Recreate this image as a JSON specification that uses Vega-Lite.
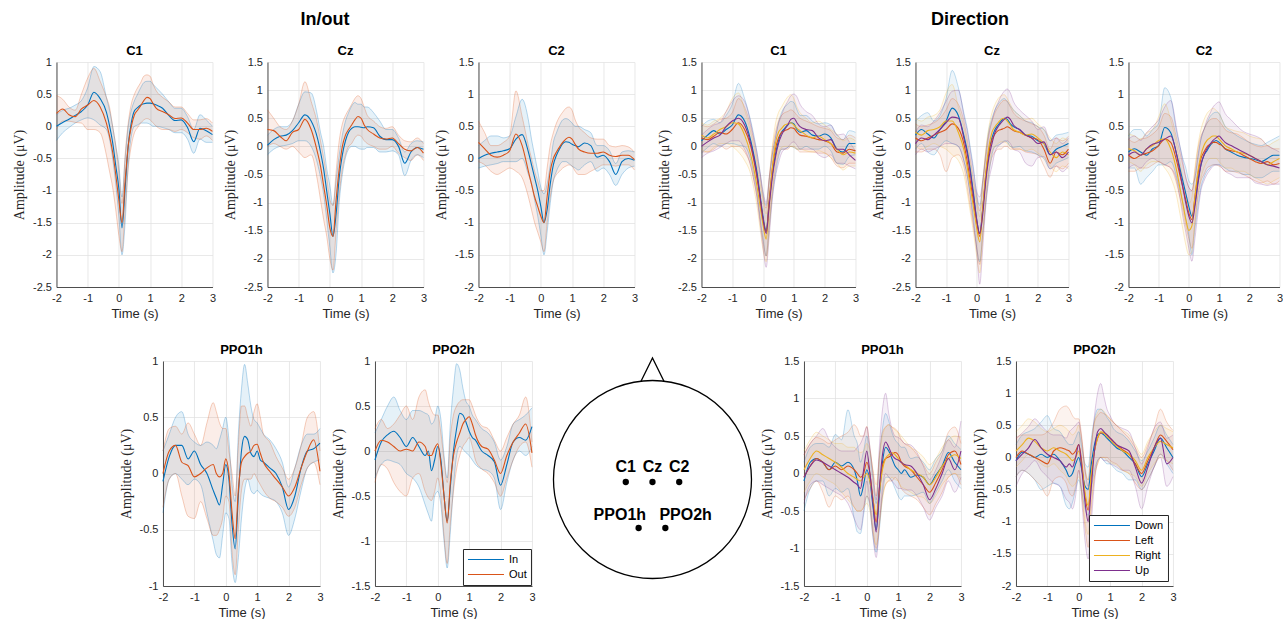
{
"$schema":"https://vega.github.io/schema/vega-lite/v6.json",
"background":"white",
"padding":{"left":12,"top":11,"right":0,"bottom":0},
"config":{
 "view":{"stroke":null},
 "font":"Liberation Sans",
 "title":{"font":"Liberation Sans","fontSize":13,"fontWeight":"bold","color":"#000000","offset":-2},
 "axis":{"labelFont":"Liberation Sans","labelFontSize":11,"labelColor":"#262626","labelOverlap":false,"domainColor":"#262626","domainWidth":0.8,"gridColor":"#dfdfdf","gridWidth":0.7,"ticks":false,"titleColor":"#262626","titleFontWeight":"normal"},
 "axisX":{"labelPadding":5,"labelFlush":false,"titleFont":"Liberation Sans","titleFontSize":13,"titlePadding":4},
 "axisY":{"labelPadding":5,"titleFont":"Liberation Serif","titleFontSize":14,"titlePadding":6}
},
"datasets":{
"a1":[
{"s":"In","t":-2,"m":0,"l":-0.22,"h":0.18},{"s":"In","t":-1.8,"m":0.06,"l":-0.1,"h":0.25},{"s":"In","t":-1.6,"m":0.11,"l":-0.02,"h":0.28},{"s":"In","t":-1.4,"m":0.17,"l":0.05,"h":0.33},{"s":"In","t":-1.2,"m":0.23,"l":0.1,"h":0.4},{"s":"In","t":-1,"m":0.33,"l":0.13,"h":0.6},{"s":"In","t":-0.8,"m":0.53,"l":0.1,"h":0.93},{"s":"In","t":-0.6,"m":0.43,"l":0.02,"h":0.85},{"s":"In","t":-0.4,"m":0.22,"l":-0.05,"h":0.45},{"s":"In","t":-0.3,"m":0.01,"l":-0.2,"h":0.25},{"s":"In","t":-0.2,"m":-0.25,"l":-0.5,"h":0},{"s":"In","t":-0.1,"m":-0.61,"l":-0.9,"h":-0.3},{"s":"In","t":0,"m":-0.97,"l":-1.4,"h":-0.6},{"s":"In","t":0.1,"m":-1.58,"l":-2,"h":-1.1},{"s":"In","t":0.2,"m":-0.97,"l":-1.5,"h":-0.5},{"s":"In","t":0.3,"m":-0.3,"l":-0.6,"h":0},{"s":"In","t":0.4,"m":0.06,"l":-0.15,"h":0.25},{"s":"In","t":0.5,"m":0.24,"l":0,"h":0.4},{"s":"In","t":0.6,"m":0.29,"l":0.02,"h":0.5},{"s":"In","t":0.7,"m":0.33,"l":0.05,"h":0.6},{"s":"In","t":0.8,"m":0.35,"l":0.05,"h":0.68},{"s":"In","t":0.9,"m":0.36,"l":0.05,"h":0.7},{"s":"In","t":1,"m":0.36,"l":0.03,"h":0.7},{"s":"In","t":1.1,"m":0.35,"l":0,"h":0.65},{"s":"In","t":1.2,"m":0.33,"l":0,"h":0.6},{"s":"In","t":1.4,"m":0.28,"l":-0.02,"h":0.5},{"s":"In","t":1.6,"m":0.17,"l":-0.05,"h":0.38},{"s":"In","t":1.8,"m":0.09,"l":-0.1,"h":0.28},{"s":"In","t":2,"m":0.1,"l":-0.1,"h":0.28},{"s":"In","t":2.2,"m":-0.02,"l":-0.2,"h":0.15},{"s":"In","t":2.4,"m":-0.24,"l":-0.42,"h":-0.05},{"s":"In","t":2.6,"m":-0.03,"l":-0.2,"h":0.18},{"s":"In","t":2.8,"m":-0.07,"l":-0.25,"h":0.1},{"s":"In","t":3,"m":-0.13,"l":-0.25,"h":0},
{"s":"Out","t":-2,"m":0.2,"l":-0.05,"h":0.48},{"s":"Out","t":-1.8,"m":0.27,"l":0.08,"h":0.42},{"s":"Out","t":-1.6,"m":0.18,"l":0.08,"h":0.3},{"s":"Out","t":-1.4,"m":0.15,"l":0.06,"h":0.25},{"s":"Out","t":-1.2,"m":0.27,"l":0.05,"h":0.5},{"s":"Out","t":-1,"m":0.33,"l":-0.05,"h":0.75},{"s":"Out","t":-0.8,"m":0.4,"l":-0.05,"h":0.9},{"s":"Out","t":-0.6,"m":0.3,"l":-0.1,"h":0.7},{"s":"Out","t":-0.4,"m":0.05,"l":-0.45,"h":0.45},{"s":"Out","t":-0.3,"m":-0.15,"l":-0.7,"h":0.3},{"s":"Out","t":-0.2,"m":-0.4,"l":-0.95,"h":0},{"s":"Out","t":-0.1,"m":-0.75,"l":-1.3,"h":-0.3},{"s":"Out","t":0,"m":-1.15,"l":-1.7,"h":-0.7},{"s":"Out","t":0.1,"m":-1.5,"l":-1.95,"h":-1.2},{"s":"Out","t":0.2,"m":-0.85,"l":-1.3,"h":-0.45},{"s":"Out","t":0.3,"m":-0.3,"l":-0.65,"h":0.05},{"s":"Out","t":0.4,"m":0,"l":-0.3,"h":0.35},{"s":"Out","t":0.5,"m":0.18,"l":-0.1,"h":0.5},{"s":"Out","t":0.6,"m":0.25,"l":-0.02,"h":0.6},{"s":"Out","t":0.7,"m":0.32,"l":0.05,"h":0.68},{"s":"Out","t":0.8,"m":0.4,"l":0.1,"h":0.78},{"s":"Out","t":0.9,"m":0.45,"l":0.12,"h":0.8},{"s":"Out","t":1,"m":0.43,"l":0.1,"h":0.78},{"s":"Out","t":1.1,"m":0.35,"l":0.05,"h":0.65},{"s":"Out","t":1.2,"m":0.28,"l":0,"h":0.55},{"s":"Out","t":1.4,"m":0.23,"l":-0.05,"h":0.45},{"s":"Out","t":1.6,"m":0.18,"l":-0.05,"h":0.38},{"s":"Out","t":1.8,"m":0.12,"l":-0.08,"h":0.3},{"s":"Out","t":2,"m":0.13,"l":-0.05,"h":0.3},{"s":"Out","t":2.2,"m":0.05,"l":-0.1,"h":0.2},{"s":"Out","t":2.4,"m":-0.05,"l":-0.18,"h":0.1},{"s":"Out","t":2.6,"m":-0.05,"l":-0.2,"h":0.1},{"s":"Out","t":2.8,"m":-0.03,"l":-0.15,"h":0.12},{"s":"Out","t":3,"m":-0.08,"l":-0.22,"h":0.05}],
"a2":[
{"s":"In","t":-2,"m":0.02,"l":-0.15,"h":0.2},{"s":"In","t":-1.8,"m":0.12,"l":-0.05,"h":0.3},{"s":"In","t":-1.6,"m":0.18,"l":0,"h":0.35},{"s":"In","t":-1.4,"m":0.2,"l":0.02,"h":0.35},{"s":"In","t":-1.2,"m":0.28,"l":0.05,"h":0.45},{"s":"In","t":-1,"m":0.42,"l":0.1,"h":0.75},{"s":"In","t":-0.8,"m":0.56,"l":0.1,"h":0.97},{"s":"In","t":-0.6,"m":0.45,"l":0,"h":0.95},{"s":"In","t":-0.4,"m":0.15,"l":-0.3,"h":0.55},{"s":"In","t":-0.3,"m":-0.1,"l":-0.55,"h":0.25},{"s":"In","t":-0.2,"m":-0.4,"l":-0.85,"h":0},{"s":"In","t":-0.1,"m":-0.8,"l":-1.3,"h":-0.4},{"s":"In","t":0,"m":-1.2,"l":-1.8,"h":-0.7},{"s":"In","t":0.1,"m":-1.6,"l":-2.25,"h":-1.05},{"s":"In","t":0.2,"m":-1.2,"l":-1.9,"h":-0.6},{"s":"In","t":0.3,"m":-0.55,"l":-1,"h":-0.15},{"s":"In","t":0.4,"m":-0.15,"l":-0.5,"h":0.2},{"s":"In","t":0.5,"m":0.1,"l":-0.2,"h":0.45},{"s":"In","t":0.6,"m":0.25,"l":-0.05,"h":0.6},{"s":"In","t":0.7,"m":0.32,"l":0,"h":0.72},{"s":"In","t":0.8,"m":0.35,"l":0,"h":0.78},{"s":"In","t":0.9,"m":0.35,"l":-0.03,"h":0.75},{"s":"In","t":1,"m":0.34,"l":-0.05,"h":0.75},{"s":"In","t":1.1,"m":0.33,"l":-0.05,"h":0.7},{"s":"In","t":1.2,"m":0.35,"l":-0.02,"h":0.7},{"s":"In","t":1.4,"m":0.33,"l":-0.02,"h":0.6},{"s":"In","t":1.6,"m":0.18,"l":-0.1,"h":0.45},{"s":"In","t":1.8,"m":0.12,"l":-0.1,"h":0.3},{"s":"In","t":2,"m":0.12,"l":-0.08,"h":0.3},{"s":"In","t":2.2,"m":0,"l":-0.15,"h":0.15},{"s":"In","t":2.4,"m":-0.3,"l":-0.52,"h":-0.1},{"s":"In","t":2.6,"m":-0.1,"l":-0.25,"h":0.05},{"s":"In","t":2.8,"m":-0.02,"l":-0.15,"h":0.1},{"s":"In","t":3,"m":-0.05,"l":-0.2,"h":0.08},
{"s":"Out","t":-2,"m":0.3,"l":0,"h":0.65},{"s":"Out","t":-1.8,"m":0.28,"l":0.05,"h":0.5},{"s":"Out","t":-1.6,"m":0.18,"l":0,"h":0.35},{"s":"Out","t":-1.4,"m":0.1,"l":-0.05,"h":0.3},{"s":"Out","t":-1.2,"m":0.25,"l":0,"h":0.45},{"s":"Out","t":-1,"m":0.3,"l":-0.1,"h":0.75},{"s":"Out","t":-0.8,"m":0.48,"l":-0.2,"h":1.15},{"s":"Out","t":-0.6,"m":0.3,"l":-0.15,"h":0.8},{"s":"Out","t":-0.4,"m":-0.1,"l":-0.6,"h":0.4},{"s":"Out","t":-0.3,"m":-0.35,"l":-0.95,"h":0.1},{"s":"Out","t":-0.2,"m":-0.7,"l":-1.3,"h":-0.2},{"s":"Out","t":-0.1,"m":-1.05,"l":-1.6,"h":-0.55},{"s":"Out","t":0,"m":-1.45,"l":-2,"h":-0.95},{"s":"Out","t":0.1,"m":-1.6,"l":-2.2,"h":-1.05},{"s":"Out","t":0.2,"m":-0.95,"l":-1.5,"h":-0.45},{"s":"Out","t":0.3,"m":-0.4,"l":-0.85,"h":0.1},{"s":"Out","t":0.4,"m":0,"l":-0.4,"h":0.4},{"s":"Out","t":0.5,"m":0.2,"l":-0.15,"h":0.55},{"s":"Out","t":0.6,"m":0.3,"l":0,"h":0.65},{"s":"Out","t":0.7,"m":0.38,"l":0.05,"h":0.75},{"s":"Out","t":0.8,"m":0.47,"l":0.15,"h":0.85},{"s":"Out","t":0.9,"m":0.53,"l":0.2,"h":0.9},{"s":"Out","t":1,"m":0.5,"l":0.18,"h":0.85},{"s":"Out","t":1.1,"m":0.38,"l":0.1,"h":0.7},{"s":"Out","t":1.2,"m":0.3,"l":0.05,"h":0.55},{"s":"Out","t":1.4,"m":0.22,"l":0,"h":0.45},{"s":"Out","t":1.6,"m":0.15,"l":-0.05,"h":0.35},{"s":"Out","t":1.8,"m":0.13,"l":-0.05,"h":0.32},{"s":"Out","t":2,"m":0.15,"l":0,"h":0.35},{"s":"Out","t":2.2,"m":0.05,"l":-0.12,"h":0.2},{"s":"Out","t":2.4,"m":-0.05,"l":-0.2,"h":0.1},{"s":"Out","t":2.6,"m":-0.08,"l":-0.25,"h":0.08},{"s":"Out","t":2.8,"m":-0.02,"l":-0.15,"h":0.15},{"s":"Out","t":3,"m":-0.12,"l":-0.25,"h":0.05}],
"a3":[
{"s":"In","t":-2,"m":0,"l":-0.15,"h":0.2},{"s":"In","t":-1.8,"m":0.05,"l":-0.12,"h":0.28},{"s":"In","t":-1.6,"m":0.08,"l":-0.1,"h":0.35},{"s":"In","t":-1.4,"m":0.1,"l":-0.08,"h":0.35},{"s":"In","t":-1.2,"m":0.12,"l":-0.05,"h":0.32},{"s":"In","t":-1,"m":0.15,"l":-0.05,"h":0.35},{"s":"In","t":-0.8,"m":0.3,"l":-0.05,"h":0.65},{"s":"In","t":-0.6,"m":0.37,"l":0,"h":0.92},{"s":"In","t":-0.4,"m":0.1,"l":-0.25,"h":0.6},{"s":"In","t":-0.3,"m":-0.1,"l":-0.4,"h":0.3},{"s":"In","t":-0.2,"m":-0.3,"l":-0.65,"h":0.05},{"s":"In","t":-0.1,"m":-0.5,"l":-0.9,"h":-0.2},{"s":"In","t":0,"m":-0.75,"l":-1.2,"h":-0.45},{"s":"In","t":0.1,"m":-1,"l":-1.5,"h":-0.55},{"s":"In","t":0.2,"m":-0.8,"l":-1.15,"h":-0.4},{"s":"In","t":0.3,"m":-0.4,"l":-0.7,"h":-0.1},{"s":"In","t":0.4,"m":-0.1,"l":-0.35,"h":0.25},{"s":"In","t":0.5,"m":0.05,"l":-0.2,"h":0.4},{"s":"In","t":0.6,"m":0.15,"l":-0.1,"h":0.52},{"s":"In","t":0.7,"m":0.23,"l":-0.05,"h":0.6},{"s":"In","t":0.8,"m":0.26,"l":-0.05,"h":0.62},{"s":"In","t":0.9,"m":0.25,"l":-0.08,"h":0.6},{"s":"In","t":1,"m":0.22,"l":-0.12,"h":0.55},{"s":"In","t":1.1,"m":0.2,"l":-0.15,"h":0.5},{"s":"In","t":1.2,"m":0.18,"l":-0.18,"h":0.5},{"s":"In","t":1.4,"m":0.24,"l":-0.1,"h":0.45},{"s":"In","t":1.6,"m":0.2,"l":-0.05,"h":0.4},{"s":"In","t":1.8,"m":0.02,"l":-0.2,"h":0.2},{"s":"In","t":2,"m":0.05,"l":-0.15,"h":0.2},{"s":"In","t":2.2,"m":-0.05,"l":-0.25,"h":0.12},{"s":"In","t":2.4,"m":-0.25,"l":-0.42,"h":-0.08},{"s":"In","t":2.6,"m":-0.05,"l":-0.25,"h":0.1},{"s":"In","t":2.8,"m":0,"l":-0.15,"h":0.12},{"s":"In","t":3,"m":-0.03,"l":-0.12,"h":0.1},
{"s":"Out","t":-2,"m":0.25,"l":-0.05,"h":0.58},{"s":"Out","t":-1.8,"m":0.15,"l":-0.1,"h":0.4},{"s":"Out","t":-1.6,"m":0.05,"l":-0.2,"h":0.2},{"s":"Out","t":-1.4,"m":0.02,"l":-0.25,"h":0.2},{"s":"Out","t":-1.2,"m":0.05,"l":-0.2,"h":0.25},{"s":"Out","t":-1,"m":0.12,"l":-0.15,"h":0.35},{"s":"Out","t":-0.8,"m":0.38,"l":-0.2,"h":1.05},{"s":"Out","t":-0.6,"m":0.2,"l":-0.3,"h":0.65},{"s":"Out","t":-0.4,"m":-0.2,"l":-0.6,"h":0.2},{"s":"Out","t":-0.3,"m":-0.4,"l":-0.8,"h":0},{"s":"Out","t":-0.2,"m":-0.6,"l":-1,"h":-0.2},{"s":"Out","t":-0.1,"m":-0.75,"l":-1.15,"h":-0.35},{"s":"Out","t":0,"m":-0.9,"l":-1.3,"h":-0.5},{"s":"Out","t":0.1,"m":-1,"l":-1.45,"h":-0.5},{"s":"Out","t":0.2,"m":-0.6,"l":-1,"h":-0.15},{"s":"Out","t":0.3,"m":-0.2,"l":-0.6,"h":0.2},{"s":"Out","t":0.4,"m":0,"l":-0.35,"h":0.4},{"s":"Out","t":0.5,"m":0.1,"l":-0.25,"h":0.55},{"s":"Out","t":0.6,"m":0.18,"l":-0.2,"h":0.65},{"s":"Out","t":0.7,"m":0.25,"l":-0.15,"h":0.72},{"s":"Out","t":0.8,"m":0.3,"l":-0.12,"h":0.78},{"s":"Out","t":0.9,"m":0.33,"l":-0.1,"h":0.8},{"s":"Out","t":1,"m":0.3,"l":-0.12,"h":0.75},{"s":"Out","t":1.1,"m":0.22,"l":-0.2,"h":0.6},{"s":"Out","t":1.2,"m":0.15,"l":-0.25,"h":0.5},{"s":"Out","t":1.4,"m":0.1,"l":-0.25,"h":0.4},{"s":"Out","t":1.6,"m":0.08,"l":-0.2,"h":0.32},{"s":"Out","t":1.8,"m":0.08,"l":-0.15,"h":0.3},{"s":"Out","t":2,"m":0.1,"l":-0.1,"h":0.3},{"s":"Out","t":2.2,"m":0.05,"l":-0.1,"h":0.2},{"s":"Out","t":2.4,"m":0.03,"l":-0.12,"h":0.18},{"s":"Out","t":2.6,"m":0.05,"l":-0.1,"h":0.2},{"s":"Out","t":2.8,"m":0.05,"l":-0.1,"h":0.18},{"s":"Out","t":3,"m":-0.02,"l":-0.18,"h":0.1}],
"a4":[
{"s":"In","t":-2,"m":-0.07,"l":-0.35,"h":0.2},{"s":"In","t":-1.8,"m":0.15,"l":-0.05,"h":0.35},{"s":"In","t":-1.6,"m":0.25,"l":0,"h":0.5},{"s":"In","t":-1.4,"m":0.25,"l":-0.05,"h":0.55},{"s":"In","t":-1.2,"m":0.13,"l":-0.1,"h":0.35},{"s":"In","t":-1,"m":0.2,"l":-0.05,"h":0.28},{"s":"In","t":-0.8,"m":0.08,"l":-0.1,"h":0.25},{"s":"In","t":-0.6,"m":0,"l":-0.35,"h":0.28},{"s":"In","t":-0.4,"m":-0.15,"l":-0.6,"h":0.25},{"s":"In","t":-0.3,"m":-0.22,"l":-0.72,"h":0.22},{"s":"In","t":-0.2,"m":-0.28,"l":-0.75,"h":0.3},{"s":"In","t":-0.1,"m":-0.1,"l":-0.55,"h":0.4},{"s":"In","t":0,"m":0.08,"l":-0.35,"h":0.5},{"s":"In","t":0.1,"m":-0.05,"l":-0.4,"h":0.3},{"s":"In","t":0.2,"m":-0.45,"l":-0.8,"h":-0.1},{"s":"In","t":0.3,"m":-0.67,"l":-0.97,"h":-0.25},{"s":"In","t":0.4,"m":-0.2,"l":-0.75,"h":0.35},{"s":"In","t":0.5,"m":0.2,"l":-0.4,"h":0.75},{"s":"In","t":0.6,"m":0.33,"l":-0.15,"h":0.97},{"s":"In","t":0.7,"m":0.3,"l":-0.05,"h":0.8},{"s":"In","t":0.8,"m":0.18,"l":-0.15,"h":0.6},{"s":"In","t":0.9,"m":0.15,"l":-0.18,"h":0.48},{"s":"In","t":1,"m":0.2,"l":-0.15,"h":0.45},{"s":"In","t":1.1,"m":0.12,"l":-0.18,"h":0.4},{"s":"In","t":1.2,"m":0.1,"l":-0.2,"h":0.35},{"s":"In","t":1.4,"m":0.05,"l":-0.22,"h":0.3},{"s":"In","t":1.6,"m":0,"l":-0.25,"h":0.22},{"s":"In","t":1.8,"m":-0.12,"l":-0.35,"h":0.1},{"s":"In","t":2,"m":-0.32,"l":-0.55,"h":-0.12},{"s":"In","t":2.2,"m":-0.2,"l":-0.4,"h":0.05},{"s":"In","t":2.4,"m":0.05,"l":-0.15,"h":0.25},{"s":"In","t":2.6,"m":0.2,"l":0.05,"h":0.35},{"s":"In","t":2.8,"m":0.22,"l":0.1,"h":0.35},{"s":"In","t":3,"m":0.27,"l":0.12,"h":0.4},
{"s":"Out","t":-2,"m":0,"l":-0.3,"h":0.2},{"s":"Out","t":-1.8,"m":0.2,"l":-0.05,"h":0.4},{"s":"Out","t":-1.6,"m":0.25,"l":0,"h":0.42},{"s":"Out","t":-1.4,"m":0.1,"l":-0.2,"h":0.35},{"s":"Out","t":-1.2,"m":0.07,"l":-0.38,"h":0.45},{"s":"Out","t":-1,"m":-0.03,"l":-0.4,"h":0.35},{"s":"Out","t":-0.8,"m":0,"l":-0.25,"h":0.25},{"s":"Out","t":-0.6,"m":0.05,"l":-0.4,"h":0.45},{"s":"Out","t":-0.4,"m":0.08,"l":-0.55,"h":0.63},{"s":"Out","t":-0.3,"m":0,"l":-0.55,"h":0.55},{"s":"Out","t":-0.2,"m":-0.03,"l":-0.5,"h":0.45},{"s":"Out","t":-0.1,"m":0,"l":-0.4,"h":0.4},{"s":"Out","t":0,"m":0.13,"l":-0.2,"h":0.4},{"s":"Out","t":0.1,"m":0,"l":-0.25,"h":0.2},{"s":"Out","t":0.2,"m":-0.35,"l":-0.7,"h":0},{"s":"Out","t":0.3,"m":-0.58,"l":-0.9,"h":-0.2},{"s":"Out","t":0.4,"m":-0.15,"l":-0.5,"h":0.25},{"s":"Out","t":0.5,"m":0.1,"l":-0.15,"h":0.6},{"s":"Out","t":0.6,"m":0.15,"l":-0.05,"h":0.6},{"s":"Out","t":0.7,"m":0.18,"l":-0.05,"h":0.5},{"s":"Out","t":0.8,"m":0.2,"l":-0.05,"h":0.42},{"s":"Out","t":0.9,"m":0.25,"l":0,"h":0.55},{"s":"Out","t":1,"m":0.26,"l":-0.05,"h":0.62},{"s":"Out","t":1.1,"m":0.18,"l":-0.1,"h":0.5},{"s":"Out","t":1.2,"m":0.1,"l":-0.15,"h":0.35},{"s":"Out","t":1.4,"m":0.02,"l":-0.22,"h":0.28},{"s":"Out","t":1.6,"m":-0.05,"l":-0.25,"h":0.15},{"s":"Out","t":1.8,"m":-0.12,"l":-0.3,"h":0.05},{"s":"Out","t":2,"m":-0.2,"l":-0.38,"h":-0.05},{"s":"Out","t":2.2,"m":-0.12,"l":-0.3,"h":0.05},{"s":"Out","t":2.4,"m":0.05,"l":-0.1,"h":0.25},{"s":"Out","t":2.6,"m":0.2,"l":0.05,"h":0.5},{"s":"Out","t":2.8,"m":0.3,"l":0.1,"h":0.55},{"s":"Out","t":3,"m":0.02,"l":-0.1,"h":0.2}],
"a5":[
{"s":"In","t":-2,"m":-0.1,"l":-0.3,"h":0.2},{"s":"In","t":-1.8,"m":0.1,"l":-0.15,"h":0.35},{"s":"In","t":-1.6,"m":0.18,"l":-0.1,"h":0.5},{"s":"In","t":-1.4,"m":0.22,"l":-0.12,"h":0.6},{"s":"In","t":-1.2,"m":0.15,"l":-0.15,"h":0.45},{"s":"In","t":-1,"m":0.05,"l":-0.25,"h":0.35},{"s":"In","t":-0.8,"m":0.15,"l":-0.3,"h":0.45},{"s":"In","t":-0.6,"m":0.05,"l":-0.4,"h":0.45},{"s":"In","t":-0.4,"m":-0.05,"l":-0.6,"h":0.42},{"s":"In","t":-0.3,"m":0,"l":-0.7,"h":0.4},{"s":"In","t":-0.2,"m":-0.22,"l":-0.78,"h":0.3},{"s":"In","t":-0.1,"m":-0.1,"l":-0.5,"h":0.35},{"s":"In","t":0,"m":0.05,"l":-0.45,"h":0.5},{"s":"In","t":0.1,"m":-0.1,"l":-0.6,"h":0.35},{"s":"In","t":0.2,"m":-0.5,"l":-1,"h":-0.05},{"s":"In","t":0.3,"m":-0.78,"l":-1.3,"h":-0.3},{"s":"In","t":0.4,"m":-0.4,"l":-0.9,"h":0.3},{"s":"In","t":0.5,"m":0,"l":-0.4,"h":0.7},{"s":"In","t":0.6,"m":0.25,"l":-0.05,"h":0.97},{"s":"In","t":0.7,"m":0.42,"l":0.05,"h":0.9},{"s":"In","t":0.8,"m":0.4,"l":0.02,"h":0.7},{"s":"In","t":0.9,"m":0.32,"l":-0.02,"h":0.55},{"s":"In","t":1,"m":0.22,"l":-0.05,"h":0.5},{"s":"In","t":1.1,"m":0.15,"l":-0.1,"h":0.4},{"s":"In","t":1.2,"m":0.12,"l":-0.15,"h":0.35},{"s":"In","t":1.4,"m":0,"l":-0.2,"h":0.25},{"s":"In","t":1.6,"m":-0.05,"l":-0.22,"h":0.2},{"s":"In","t":1.8,"m":-0.12,"l":-0.3,"h":0.1},{"s":"In","t":2,"m":-0.38,"l":-0.65,"h":-0.1},{"s":"In","t":2.2,"m":-0.15,"l":-0.35,"h":0.05},{"s":"In","t":2.4,"m":0.1,"l":-0.1,"h":0.3},{"s":"In","t":2.6,"m":0.15,"l":0,"h":0.35},{"s":"In","t":2.8,"m":0.12,"l":-0.05,"h":0.4},{"s":"In","t":3,"m":0.27,"l":0.05,"h":0.48},
{"s":"Out","t":-2,"m":0,"l":-0.35,"h":0.25},{"s":"Out","t":-1.8,"m":0.12,"l":-0.15,"h":0.35},{"s":"Out","t":-1.6,"m":0.1,"l":-0.2,"h":0.25},{"s":"Out","t":-1.4,"m":0.05,"l":-0.35,"h":0.3},{"s":"Out","t":-1.2,"m":0,"l":-0.45,"h":0.4},{"s":"Out","t":-1,"m":0.02,"l":-0.5,"h":0.5},{"s":"Out","t":-0.8,"m":0,"l":-0.3,"h":0.35},{"s":"Out","t":-0.6,"m":0.1,"l":-0.25,"h":0.6},{"s":"Out","t":-0.4,"m":0.05,"l":-0.45,"h":0.68},{"s":"Out","t":-0.3,"m":-0.05,"l":-0.52,"h":0.55},{"s":"Out","t":-0.2,"m":-0.05,"l":-0.55,"h":0.45},{"s":"Out","t":-0.1,"m":0.03,"l":-0.45,"h":0.4},{"s":"Out","t":0,"m":0.08,"l":-0.3,"h":0.4},{"s":"Out","t":0.1,"m":-0.15,"l":-0.5,"h":0.2},{"s":"Out","t":0.2,"m":-0.5,"l":-0.95,"h":-0.1},{"s":"Out","t":0.3,"m":-0.8,"l":-1.25,"h":-0.35},{"s":"Out","t":0.4,"m":-0.35,"l":-0.8,"h":0.15},{"s":"Out","t":0.5,"m":-0.05,"l":-0.45,"h":0.4},{"s":"Out","t":0.6,"m":0.1,"l":-0.2,"h":0.5},{"s":"Out","t":0.7,"m":0.2,"l":-0.05,"h":0.55},{"s":"Out","t":0.8,"m":0.3,"l":0.05,"h":0.57},{"s":"Out","t":0.9,"m":0.35,"l":0.1,"h":0.57},{"s":"Out","t":1,"m":0.38,"l":0.15,"h":0.57},{"s":"Out","t":1.1,"m":0.3,"l":0.05,"h":0.5},{"s":"Out","t":1.2,"m":0.18,"l":-0.1,"h":0.4},{"s":"Out","t":1.4,"m":0.05,"l":-0.2,"h":0.28},{"s":"Out","t":1.6,"m":0.02,"l":-0.25,"h":0.25},{"s":"Out","t":1.8,"m":-0.1,"l":-0.35,"h":0.12},{"s":"Out","t":2,"m":-0.25,"l":-0.5,"h":0},{"s":"Out","t":2.2,"m":-0.05,"l":-0.3,"h":0.15},{"s":"Out","t":2.4,"m":0.1,"l":-0.1,"h":0.3},{"s":"Out","t":2.6,"m":0.2,"l":0.05,"h":0.4},{"s":"Out","t":2.8,"m":0.3,"l":0.1,"h":0.6},{"s":"Out","t":3,"m":-0.02,"l":-0.18,"h":0.1}],
"d1":[
{"s":"Down","t":-2,"m":0.1,"l":-0.12,"h":0.35},{"s":"Down","t":-1.8,"m":0.2,"l":-0.02,"h":0.45},{"s":"Down","t":-1.6,"m":0.28,"l":0.05,"h":0.48},{"s":"Down","t":-1.4,"m":0.22,"l":0,"h":0.42},{"s":"Down","t":-1.2,"m":0.3,"l":0.05,"h":0.55},{"s":"Down","t":-1,"m":0.38,"l":0.05,"h":0.75},{"s":"Down","t":-0.8,"m":0.56,"l":0.02,"h":1.12},{"s":"Down","t":-0.6,"m":0.45,"l":0,"h":0.85},{"s":"Down","t":-0.4,"m":0.1,"l":-0.25,"h":0.45},{"s":"Down","t":-0.3,"m":-0.15,"l":-0.5,"h":0.2},{"s":"Down","t":-0.2,"m":-0.45,"l":-0.8,"h":-0.1},{"s":"Down","t":-0.1,"m":-0.85,"l":-1.25,"h":-0.45},{"s":"Down","t":0,"m":-1.25,"l":-1.65,"h":-0.85},{"s":"Down","t":0.1,"m":-1.5,"l":-1.95,"h":-1.05},{"s":"Down","t":0.2,"m":-1,"l":-1.45,"h":-0.6},{"s":"Down","t":0.3,"m":-0.5,"l":-0.9,"h":-0.15},{"s":"Down","t":0.4,"m":-0.15,"l":-0.5,"h":0.15},{"s":"Down","t":0.5,"m":0.1,"l":-0.2,"h":0.42},{"s":"Down","t":0.6,"m":0.25,"l":-0.05,"h":0.6},{"s":"Down","t":0.7,"m":0.32,"l":-0.05,"h":0.7},{"s":"Down","t":0.8,"m":0.38,"l":-0.02,"h":0.75},{"s":"Down","t":0.9,"m":0.42,"l":0,"h":0.8},{"s":"Down","t":1,"m":0.4,"l":-0.02,"h":0.78},{"s":"Down","t":1.1,"m":0.3,"l":-0.05,"h":0.65},{"s":"Down","t":1.2,"m":0.25,"l":-0.05,"h":0.55},{"s":"Down","t":1.4,"m":0.28,"l":0,"h":0.55},{"s":"Down","t":1.6,"m":0.2,"l":-0.05,"h":0.45},{"s":"Down","t":1.8,"m":0.18,"l":-0.05,"h":0.4},{"s":"Down","t":2,"m":0.22,"l":0,"h":0.42},{"s":"Down","t":2.2,"m":0.15,"l":-0.08,"h":0.38},{"s":"Down","t":2.4,"m":-0.05,"l":-0.3,"h":0.2},{"s":"Down","t":2.6,"m":-0.1,"l":-0.32,"h":0.12},{"s":"Down","t":2.8,"m":0.05,"l":-0.18,"h":0.28},{"s":"Down","t":3,"m":0.05,"l":-0.15,"h":0.25},
{"s":"Left","t":-2,"m":0.15,"l":-0.1,"h":0.38},{"s":"Left","t":-1.8,"m":0.12,"l":-0.1,"h":0.35},{"s":"Left","t":-1.6,"m":0.18,"l":-0.05,"h":0.4},{"s":"Left","t":-1.4,"m":0.25,"l":0.02,"h":0.48},{"s":"Left","t":-1.2,"m":0.22,"l":-0.05,"h":0.5},{"s":"Left","t":-1,"m":0.3,"l":0,"h":0.6},{"s":"Left","t":-0.8,"m":0.42,"l":0,"h":0.85},{"s":"Left","t":-0.6,"m":0.3,"l":-0.1,"h":0.7},{"s":"Left","t":-0.4,"m":0,"l":-0.35,"h":0.35},{"s":"Left","t":-0.3,"m":-0.25,"l":-0.6,"h":0.1},{"s":"Left","t":-0.2,"m":-0.55,"l":-0.9,"h":-0.2},{"s":"Left","t":-0.1,"m":-0.9,"l":-1.3,"h":-0.5},{"s":"Left","t":0,"m":-1.3,"l":-1.7,"h":-0.9},{"s":"Left","t":0.1,"m":-1.52,"l":-1.95,"h":-1.1},{"s":"Left","t":0.2,"m":-0.95,"l":-1.35,"h":-0.55},{"s":"Left","t":0.3,"m":-0.4,"l":-0.8,"h":-0.05},{"s":"Left","t":0.4,"m":-0.05,"l":-0.4,"h":0.25},{"s":"Left","t":0.5,"m":0.15,"l":-0.15,"h":0.45},{"s":"Left","t":0.6,"m":0.25,"l":-0.05,"h":0.55},{"s":"Left","t":0.7,"m":0.28,"l":-0.05,"h":0.6},{"s":"Left","t":0.8,"m":0.3,"l":-0.05,"h":0.62},{"s":"Left","t":0.9,"m":0.33,"l":0,"h":0.65},{"s":"Left","t":1,"m":0.32,"l":0,"h":0.62},{"s":"Left","t":1.1,"m":0.25,"l":-0.05,"h":0.55},{"s":"Left","t":1.2,"m":0.2,"l":-0.1,"h":0.5},{"s":"Left","t":1.4,"m":0.18,"l":-0.1,"h":0.45},{"s":"Left","t":1.6,"m":0.15,"l":-0.1,"h":0.4},{"s":"Left","t":1.8,"m":0.12,"l":-0.12,"h":0.35},{"s":"Left","t":2,"m":0.1,"l":-0.12,"h":0.32},{"s":"Left","t":2.2,"m":0.05,"l":-0.2,"h":0.28},{"s":"Left","t":2.4,"m":-0.1,"l":-0.35,"h":0.15},{"s":"Left","t":2.6,"m":-0.12,"l":-0.38,"h":0.12},{"s":"Left","t":2.8,"m":-0.05,"l":-0.3,"h":0.2},{"s":"Left","t":3,"m":-0.08,"l":-0.3,"h":0.15},
{"s":"Right","t":-2,"m":0.2,"l":-0.05,"h":0.42},{"s":"Right","t":-1.8,"m":0.15,"l":-0.1,"h":0.38},{"s":"Right","t":-1.6,"m":0.22,"l":-0.02,"h":0.45},{"s":"Right","t":-1.4,"m":0.3,"l":0.05,"h":0.5},{"s":"Right","t":-1.2,"m":0.35,"l":0.05,"h":0.62},{"s":"Right","t":-1,"m":0.42,"l":0,"h":0.85},{"s":"Right","t":-0.8,"m":0.4,"l":-0.1,"h":0.95},{"s":"Right","t":-0.6,"m":0.2,"l":-0.25,"h":0.65},{"s":"Right","t":-0.4,"m":-0.15,"l":-0.5,"h":0.25},{"s":"Right","t":-0.3,"m":-0.4,"l":-0.75,"h":0},{"s":"Right","t":-0.2,"m":-0.7,"l":-1.05,"h":-0.3},{"s":"Right","t":-0.1,"m":-1.05,"l":-1.45,"h":-0.65},{"s":"Right","t":0,"m":-1.4,"l":-1.85,"h":-0.95},{"s":"Right","t":0.1,"m":-1.65,"l":-2.05,"h":-1.2},{"s":"Right","t":0.2,"m":-1.05,"l":-1.5,"h":-0.6},{"s":"Right","t":0.3,"m":-0.4,"l":-0.8,"h":0},{"s":"Right","t":0.4,"m":0.05,"l":-0.3,"h":0.4},{"s":"Right","t":0.5,"m":0.25,"l":-0.1,"h":0.6},{"s":"Right","t":0.6,"m":0.32,"l":-0.02,"h":0.7},{"s":"Right","t":0.7,"m":0.38,"l":0,"h":0.8},{"s":"Right","t":0.8,"m":0.4,"l":0,"h":0.88},{"s":"Right","t":0.9,"m":0.42,"l":0,"h":0.92},{"s":"Right","t":1,"m":0.38,"l":-0.02,"h":0.85},{"s":"Right","t":1.1,"m":0.32,"l":-0.05,"h":0.7},{"s":"Right","t":1.2,"m":0.28,"l":-0.05,"h":0.6},{"s":"Right","t":1.4,"m":0.2,"l":-0.08,"h":0.5},{"s":"Right","t":1.6,"m":0.15,"l":-0.1,"h":0.42},{"s":"Right","t":1.8,"m":0.18,"l":-0.08,"h":0.45},{"s":"Right","t":2,"m":0.12,"l":-0.12,"h":0.38},{"s":"Right","t":2.2,"m":0.05,"l":-0.2,"h":0.3},{"s":"Right","t":2.4,"m":-0.05,"l":-0.3,"h":0.22},{"s":"Right","t":2.6,"m":-0.15,"l":-0.42,"h":0.1},{"s":"Right","t":2.8,"m":-0.1,"l":-0.35,"h":0.15},{"s":"Right","t":3,"m":-0.12,"l":-0.35,"h":0.1},
{"s":"Up","t":-2,"m":0,"l":-0.2,"h":0.2},{"s":"Up","t":-1.8,"m":0.08,"l":-0.12,"h":0.3},{"s":"Up","t":-1.6,"m":0.15,"l":-0.08,"h":0.38},{"s":"Up","t":-1.4,"m":0.2,"l":-0.02,"h":0.42},{"s":"Up","t":-1.2,"m":0.35,"l":0.05,"h":0.62},{"s":"Up","t":-1,"m":0.45,"l":0.1,"h":0.8},{"s":"Up","t":-0.8,"m":0.5,"l":0.1,"h":0.9},{"s":"Up","t":-0.6,"m":0.38,"l":-0.05,"h":0.8},{"s":"Up","t":-0.4,"m":0.05,"l":-0.35,"h":0.42},{"s":"Up","t":-0.3,"m":-0.2,"l":-0.6,"h":0.15},{"s":"Up","t":-0.2,"m":-0.5,"l":-0.9,"h":-0.1},{"s":"Up","t":-0.1,"m":-0.9,"l":-1.35,"h":-0.45},{"s":"Up","t":0,"m":-1.3,"l":-1.8,"h":-0.8},{"s":"Up","t":0.1,"m":-1.55,"l":-2.15,"h":-1},{"s":"Up","t":0.2,"m":-1.05,"l":-1.6,"h":-0.55},{"s":"Up","t":0.3,"m":-0.55,"l":-0.95,"h":-0.15},{"s":"Up","t":0.4,"m":-0.2,"l":-0.55,"h":0.15},{"s":"Up","t":0.5,"m":0.05,"l":-0.3,"h":0.4},{"s":"Up","t":0.6,"m":0.2,"l":-0.12,"h":0.55},{"s":"Up","t":0.7,"m":0.3,"l":-0.05,"h":0.7},{"s":"Up","t":0.8,"m":0.38,"l":-0.02,"h":0.8},{"s":"Up","t":0.9,"m":0.48,"l":0.05,"h":0.9},{"s":"Up","t":1,"m":0.5,"l":0.08,"h":0.93},{"s":"Up","t":1.1,"m":0.42,"l":0.02,"h":0.88},{"s":"Up","t":1.2,"m":0.35,"l":-0.05,"h":0.75},{"s":"Up","t":1.4,"m":0.3,"l":-0.05,"h":0.62},{"s":"Up","t":1.6,"m":0.28,"l":-0.05,"h":0.55},{"s":"Up","t":1.8,"m":0.15,"l":-0.15,"h":0.4},{"s":"Up","t":2,"m":0.1,"l":-0.2,"h":0.35},{"s":"Up","t":2.2,"m":0.12,"l":-0.15,"h":0.38},{"s":"Up","t":2.4,"m":-0.05,"l":-0.3,"h":0.2},{"s":"Up","t":2.6,"m":-0.05,"l":-0.3,"h":0.22},{"s":"Up","t":2.8,"m":-0.15,"l":-0.35,"h":0.08},{"s":"Up","t":3,"m":-0.25,"l":-0.4,"h":-0.08}],
"d2":[
{"s":"Down","t":-2,"m":0.2,"l":-0.05,"h":0.45},{"s":"Down","t":-1.8,"m":0.3,"l":0.05,"h":0.55},{"s":"Down","t":-1.6,"m":0.22,"l":-0.1,"h":0.6},{"s":"Down","t":-1.4,"m":0.15,"l":-0.15,"h":0.45},{"s":"Down","t":-1.2,"m":0.3,"l":0,"h":0.55},{"s":"Down","t":-1,"m":0.45,"l":0.1,"h":0.85},{"s":"Down","t":-0.8,"m":0.68,"l":0.05,"h":1.35},{"s":"Down","t":-0.6,"m":0.55,"l":0,"h":1.05},{"s":"Down","t":-0.4,"m":0.15,"l":-0.3,"h":0.55},{"s":"Down","t":-0.3,"m":-0.1,"l":-0.55,"h":0.3},{"s":"Down","t":-0.2,"m":-0.45,"l":-0.9,"h":-0.05},{"s":"Down","t":-0.1,"m":-0.85,"l":-1.3,"h":-0.4},{"s":"Down","t":0,"m":-1.3,"l":-1.8,"h":-0.85},{"s":"Down","t":0.1,"m":-1.55,"l":-2.05,"h":-1.05},{"s":"Down","t":0.2,"m":-1.1,"l":-1.55,"h":-0.6},{"s":"Down","t":0.3,"m":-0.55,"l":-1,"h":-0.1},{"s":"Down","t":0.4,"m":-0.1,"l":-0.5,"h":0.3},{"s":"Down","t":0.5,"m":0.15,"l":-0.15,"h":0.5},{"s":"Down","t":0.6,"m":0.3,"l":0,"h":0.65},{"s":"Down","t":0.7,"m":0.38,"l":0.02,"h":0.75},{"s":"Down","t":0.8,"m":0.45,"l":0.05,"h":0.82},{"s":"Down","t":0.9,"m":0.5,"l":0.1,"h":0.85},{"s":"Down","t":1,"m":0.48,"l":0.08,"h":0.8},{"s":"Down","t":1.1,"m":0.4,"l":0,"h":0.72},{"s":"Down","t":1.2,"m":0.35,"l":-0.02,"h":0.65},{"s":"Down","t":1.4,"m":0.3,"l":0,"h":0.55},{"s":"Down","t":1.6,"m":0.2,"l":-0.08,"h":0.45},{"s":"Down","t":1.8,"m":0.18,"l":-0.1,"h":0.42},{"s":"Down","t":2,"m":0.1,"l":-0.15,"h":0.35},{"s":"Down","t":2.2,"m":0.05,"l":-0.22,"h":0.3},{"s":"Down","t":2.4,"m":-0.15,"l":-0.4,"h":0.1},{"s":"Down","t":2.6,"m":-0.05,"l":-0.3,"h":0.2},{"s":"Down","t":2.8,"m":0,"l":-0.25,"h":0.22},{"s":"Down","t":3,"m":0.05,"l":-0.2,"h":0.25},
{"s":"Left","t":-2,"m":0.15,"l":-0.1,"h":0.4},{"s":"Left","t":-1.8,"m":0.1,"l":-0.1,"h":0.35},{"s":"Left","t":-1.6,"m":0.15,"l":-0.05,"h":0.38},{"s":"Left","t":-1.4,"m":0.2,"l":-0.05,"h":0.42},{"s":"Left","t":-1.2,"m":0.25,"l":-0.15,"h":0.5},{"s":"Left","t":-1,"m":0.3,"l":-0.45,"h":0.65},{"s":"Left","t":-0.8,"m":0.4,"l":-0.2,"h":0.85},{"s":"Left","t":-0.6,"m":0.32,"l":-0.15,"h":0.75},{"s":"Left","t":-0.4,"m":0,"l":-0.4,"h":0.4},{"s":"Left","t":-0.3,"m":-0.3,"l":-0.75,"h":0.1},{"s":"Left","t":-0.2,"m":-0.65,"l":-1.1,"h":-0.25},{"s":"Left","t":-0.1,"m":-1,"l":-1.45,"h":-0.6},{"s":"Left","t":0,"m":-1.35,"l":-1.8,"h":-0.9},{"s":"Left","t":0.1,"m":-1.6,"l":-2.1,"h":-1.15},{"s":"Left","t":0.2,"m":-1.1,"l":-1.55,"h":-0.65},{"s":"Left","t":0.3,"m":-0.5,"l":-0.95,"h":-0.1},{"s":"Left","t":0.4,"m":-0.1,"l":-0.45,"h":0.25},{"s":"Left","t":0.5,"m":0.12,"l":-0.2,"h":0.45},{"s":"Left","t":0.6,"m":0.22,"l":-0.1,"h":0.6},{"s":"Left","t":0.7,"m":0.28,"l":-0.05,"h":0.7},{"s":"Left","t":0.8,"m":0.3,"l":-0.05,"h":0.78},{"s":"Left","t":0.9,"m":0.32,"l":0,"h":0.82},{"s":"Left","t":1,"m":0.35,"l":0,"h":0.8},{"s":"Left","t":1.1,"m":0.32,"l":-0.05,"h":0.7},{"s":"Left","t":1.2,"m":0.28,"l":-0.05,"h":0.6},{"s":"Left","t":1.4,"m":0.25,"l":-0.05,"h":0.5},{"s":"Left","t":1.6,"m":0.2,"l":-0.1,"h":0.45},{"s":"Left","t":1.8,"m":0.15,"l":-0.12,"h":0.4},{"s":"Left","t":2,"m":0.12,"l":-0.15,"h":0.35},{"s":"Left","t":2.2,"m":-0.05,"l":-0.35,"h":0.2},{"s":"Left","t":2.4,"m":-0.3,"l":-0.55,"h":-0.05},{"s":"Left","t":2.6,"m":-0.1,"l":-0.35,"h":0.15},{"s":"Left","t":2.8,"m":-0.15,"l":-0.4,"h":0.1},{"s":"Left","t":3,"m":-0.05,"l":-0.3,"h":0.18},
{"s":"Right","t":-2,"m":0.25,"l":0,"h":0.5},{"s":"Right","t":-1.8,"m":0.2,"l":-0.05,"h":0.45},{"s":"Right","t":-1.6,"m":0.28,"l":0,"h":0.52},{"s":"Right","t":-1.4,"m":0.3,"l":0.05,"h":0.55},{"s":"Right","t":-1.2,"m":0.35,"l":0,"h":0.65},{"s":"Right","t":-1,"m":0.45,"l":-0.05,"h":0.95},{"s":"Right","t":-0.8,"m":0.45,"l":-0.15,"h":1.1},{"s":"Right","t":-0.6,"m":0.25,"l":-0.25,"h":0.7},{"s":"Right","t":-0.4,"m":-0.1,"l":-0.55,"h":0.3},{"s":"Right","t":-0.3,"m":-0.4,"l":-0.85,"h":0},{"s":"Right","t":-0.2,"m":-0.75,"l":-1.2,"h":-0.35},{"s":"Right","t":-0.1,"m":-1.1,"l":-1.55,"h":-0.7},{"s":"Right","t":0,"m":-1.45,"l":-1.95,"h":-1},{"s":"Right","t":0.1,"m":-1.7,"l":-2.25,"h":-1.25},{"s":"Right","t":0.2,"m":-1.1,"l":-1.6,"h":-0.65},{"s":"Right","t":0.3,"m":-0.45,"l":-0.85,"h":-0.05},{"s":"Right","t":0.4,"m":0,"l":-0.35,"h":0.35},{"s":"Right","t":0.5,"m":0.25,"l":-0.1,"h":0.6},{"s":"Right","t":0.6,"m":0.35,"l":0,"h":0.75},{"s":"Right","t":0.7,"m":0.42,"l":0.05,"h":0.85},{"s":"Right","t":0.8,"m":0.48,"l":0.08,"h":0.9},{"s":"Right","t":0.9,"m":0.5,"l":0.08,"h":0.92},{"s":"Right","t":1,"m":0.45,"l":0.05,"h":0.85},{"s":"Right","t":1.1,"m":0.38,"l":0,"h":0.75},{"s":"Right","t":1.2,"m":0.3,"l":-0.05,"h":0.65},{"s":"Right","t":1.4,"m":0.25,"l":-0.05,"h":0.55},{"s":"Right","t":1.6,"m":0.2,"l":-0.08,"h":0.48},{"s":"Right","t":1.8,"m":0.22,"l":-0.05,"h":0.5},{"s":"Right","t":2,"m":0.15,"l":-0.12,"h":0.4},{"s":"Right","t":2.2,"m":0.05,"l":-0.2,"h":0.3},{"s":"Right","t":2.4,"m":-0.1,"l":-0.35,"h":0.15},{"s":"Right","t":2.6,"m":-0.2,"l":-0.45,"h":0.05},{"s":"Right","t":2.8,"m":-0.1,"l":-0.35,"h":0.15},{"s":"Right","t":3,"m":-0.15,"l":-0.4,"h":0.1},
{"s":"Up","t":-2,"m":0.05,"l":-0.15,"h":0.25},{"s":"Up","t":-1.8,"m":0.15,"l":-0.05,"h":0.38},{"s":"Up","t":-1.6,"m":0.12,"l":-0.1,"h":0.35},{"s":"Up","t":-1.4,"m":0.2,"l":-0.05,"h":0.45},{"s":"Up","t":-1.2,"m":0.3,"l":0,"h":0.6},{"s":"Up","t":-1,"m":0.42,"l":0.05,"h":0.8},{"s":"Up","t":-0.8,"m":0.52,"l":0.05,"h":0.98},{"s":"Up","t":-0.6,"m":0.5,"l":0,"h":1},{"s":"Up","t":-0.4,"m":0.1,"l":-0.3,"h":0.5},{"s":"Up","t":-0.3,"m":-0.15,"l":-0.55,"h":0.25},{"s":"Up","t":-0.2,"m":-0.5,"l":-0.95,"h":-0.1},{"s":"Up","t":-0.1,"m":-0.9,"l":-1.4,"h":-0.45},{"s":"Up","t":0,"m":-1.3,"l":-1.85,"h":-0.8},{"s":"Up","t":0.1,"m":-1.55,"l":-2.45,"h":-0.9},{"s":"Up","t":0.2,"m":-1.2,"l":-1.8,"h":-0.6},{"s":"Up","t":0.3,"m":-0.6,"l":-1.05,"h":-0.2},{"s":"Up","t":0.4,"m":-0.2,"l":-0.6,"h":0.2},{"s":"Up","t":0.5,"m":0.05,"l":-0.35,"h":0.45},{"s":"Up","t":0.6,"m":0.25,"l":-0.1,"h":0.65},{"s":"Up","t":0.7,"m":0.35,"l":0,"h":0.78},{"s":"Up","t":0.8,"m":0.42,"l":0.05,"h":0.9},{"s":"Up","t":0.9,"m":0.48,"l":0.08,"h":0.98},{"s":"Up","t":1,"m":0.52,"l":0.1,"h":1.02},{"s":"Up","t":1.1,"m":0.48,"l":0.05,"h":0.95},{"s":"Up","t":1.2,"m":0.38,"l":-0.05,"h":0.8},{"s":"Up","t":1.4,"m":0.3,"l":-0.1,"h":0.65},{"s":"Up","t":1.6,"m":0.2,"l":-0.3,"h":0.55},{"s":"Up","t":1.8,"m":0.15,"l":-0.35,"h":0.45},{"s":"Up","t":2,"m":0.05,"l":-0.2,"h":0.3},{"s":"Up","t":2.2,"m":0.08,"l":-0.18,"h":0.35},{"s":"Up","t":2.4,"m":-0.15,"l":-0.4,"h":0.1},{"s":"Up","t":2.6,"m":-0.1,"l":-0.35,"h":0.15},{"s":"Up","t":2.8,"m":-0.2,"l":-0.45,"h":0.05},{"s":"Up","t":3,"m":-0.1,"l":-0.35,"h":0.15}],
"d3":[
{"s":"Down","t":-2,"m":0.1,"l":-0.15,"h":0.35},{"s":"Down","t":-1.8,"m":0.15,"l":-0.15,"h":0.45},{"s":"Down","t":-1.6,"m":0.1,"l":-0.4,"h":0.45},{"s":"Down","t":-1.4,"m":0.05,"l":-0.3,"h":0.35},{"s":"Down","t":-1.2,"m":0.15,"l":-0.2,"h":0.45},{"s":"Down","t":-1,"m":0.2,"l":-0.1,"h":0.55},{"s":"Down","t":-0.8,"m":0.48,"l":-0.1,"h":1.1},{"s":"Down","t":-0.6,"m":0.4,"l":-0.05,"h":0.95},{"s":"Down","t":-0.4,"m":0.05,"l":-0.3,"h":0.4},{"s":"Down","t":-0.3,"m":-0.15,"l":-0.5,"h":0.2},{"s":"Down","t":-0.2,"m":-0.35,"l":-0.7,"h":0},{"s":"Down","t":-0.1,"m":-0.55,"l":-0.95,"h":-0.15},{"s":"Down","t":0,"m":-0.75,"l":-1.2,"h":-0.35},{"s":"Down","t":0.1,"m":-0.9,"l":-1.5,"h":-0.4},{"s":"Down","t":0.2,"m":-0.7,"l":-1.1,"h":-0.3},{"s":"Down","t":0.3,"m":-0.35,"l":-0.75,"h":0.05},{"s":"Down","t":0.4,"m":-0.1,"l":-0.45,"h":0.3},{"s":"Down","t":0.5,"m":0.05,"l":-0.3,"h":0.45},{"s":"Down","t":0.6,"m":0.12,"l":-0.2,"h":0.55},{"s":"Down","t":0.7,"m":0.2,"l":-0.15,"h":0.65},{"s":"Down","t":0.8,"m":0.25,"l":-0.1,"h":0.7},{"s":"Down","t":0.9,"m":0.28,"l":-0.1,"h":0.72},{"s":"Down","t":1,"m":0.25,"l":-0.1,"h":0.7},{"s":"Down","t":1.1,"m":0.2,"l":-0.12,"h":0.6},{"s":"Down","t":1.2,"m":0.15,"l":-0.15,"h":0.5},{"s":"Down","t":1.4,"m":0.1,"l":-0.2,"h":0.42},{"s":"Down","t":1.6,"m":0.05,"l":-0.2,"h":0.35},{"s":"Down","t":1.8,"m":0.02,"l":-0.25,"h":0.3},{"s":"Down","t":2,"m":0,"l":-0.25,"h":0.25},{"s":"Down","t":2.2,"m":-0.02,"l":-0.3,"h":0.22},{"s":"Down","t":2.4,"m":-0.05,"l":-0.3,"h":0.2},{"s":"Down","t":2.6,"m":0,"l":-0.25,"h":0.25},{"s":"Down","t":2.8,"m":0.05,"l":-0.2,"h":0.3},{"s":"Down","t":3,"m":0.05,"l":-0.2,"h":0.35},
{"s":"Left","t":-2,"m":0.05,"l":-0.2,"h":0.3},{"s":"Left","t":-1.8,"m":0,"l":-0.2,"h":0.25},{"s":"Left","t":-1.6,"m":0.05,"l":-0.15,"h":0.3},{"s":"Left","t":-1.4,"m":0.08,"l":-0.15,"h":0.32},{"s":"Left","t":-1.2,"m":0.12,"l":-0.1,"h":0.38},{"s":"Left","t":-1,"m":0.2,"l":-0.05,"h":0.48},{"s":"Left","t":-0.8,"m":0.3,"l":-0.1,"h":0.7},{"s":"Left","t":-0.6,"m":0.25,"l":-0.15,"h":0.65},{"s":"Left","t":-0.4,"m":-0.05,"l":-0.4,"h":0.3},{"s":"Left","t":-0.3,"m":-0.25,"l":-0.6,"h":0.1},{"s":"Left","t":-0.2,"m":-0.45,"l":-0.8,"h":-0.1},{"s":"Left","t":-0.1,"m":-0.65,"l":-1.05,"h":-0.3},{"s":"Left","t":0,"m":-0.85,"l":-1.25,"h":-0.45},{"s":"Left","t":0.1,"m":-0.95,"l":-1.4,"h":-0.5},{"s":"Left","t":0.2,"m":-0.6,"l":-1,"h":-0.2},{"s":"Left","t":0.3,"m":-0.25,"l":-0.6,"h":0.15},{"s":"Left","t":0.4,"m":0,"l":-0.35,"h":0.35},{"s":"Left","t":0.5,"m":0.1,"l":-0.25,"h":0.45},{"s":"Left","t":0.6,"m":0.18,"l":-0.15,"h":0.55},{"s":"Left","t":0.7,"m":0.22,"l":-0.12,"h":0.6},{"s":"Left","t":0.8,"m":0.25,"l":-0.1,"h":0.62},{"s":"Left","t":0.9,"m":0.25,"l":-0.1,"h":0.62},{"s":"Left","t":1,"m":0.22,"l":-0.12,"h":0.58},{"s":"Left","t":1.1,"m":0.2,"l":-0.15,"h":0.52},{"s":"Left","t":1.2,"m":0.15,"l":-0.2,"h":0.45},{"s":"Left","t":1.4,"m":0.12,"l":-0.2,"h":0.4},{"s":"Left","t":1.6,"m":0.1,"l":-0.22,"h":0.38},{"s":"Left","t":1.8,"m":0.05,"l":-0.25,"h":0.32},{"s":"Left","t":2,"m":0,"l":-0.3,"h":0.25},{"s":"Left","t":2.2,"m":-0.05,"l":-0.35,"h":0.2},{"s":"Left","t":2.4,"m":-0.08,"l":-0.38,"h":0.18},{"s":"Left","t":2.6,"m":-0.05,"l":-0.35,"h":0.2},{"s":"Left","t":2.8,"m":-0.1,"l":-0.4,"h":0.15},{"s":"Left","t":3,"m":-0.08,"l":-0.35,"h":0.15},
{"s":"Right","t":-2,"m":0.15,"l":-0.05,"h":0.38},{"s":"Right","t":-1.8,"m":0.12,"l":-0.1,"h":0.35},{"s":"Right","t":-1.6,"m":0.05,"l":-0.2,"h":0.3},{"s":"Right","t":-1.4,"m":0.15,"l":-0.1,"h":0.4},{"s":"Right","t":-1.2,"m":0.2,"l":-0.05,"h":0.45},{"s":"Right","t":-1,"m":0.28,"l":-0.05,"h":0.65},{"s":"Right","t":-0.8,"m":0.3,"l":-0.15,"h":0.85},{"s":"Right","t":-0.6,"m":0.15,"l":-0.3,"h":0.6},{"s":"Right","t":-0.4,"m":-0.2,"l":-0.6,"h":0.2},{"s":"Right","t":-0.3,"m":-0.45,"l":-0.85,"h":-0.05},{"s":"Right","t":-0.2,"m":-0.7,"l":-1.1,"h":-0.3},{"s":"Right","t":-0.1,"m":-0.95,"l":-1.35,"h":-0.55},{"s":"Right","t":0,"m":-1.12,"l":-1.5,"h":-0.7},{"s":"Right","t":0.1,"m":-1.05,"l":-1.45,"h":-0.6},{"s":"Right","t":0.2,"m":-0.6,"l":-1,"h":-0.15},{"s":"Right","t":0.3,"m":-0.2,"l":-0.55,"h":0.2},{"s":"Right","t":0.4,"m":0.05,"l":-0.3,"h":0.45},{"s":"Right","t":0.5,"m":0.2,"l":-0.15,"h":0.6},{"s":"Right","t":0.6,"m":0.28,"l":-0.05,"h":0.7},{"s":"Right","t":0.7,"m":0.32,"l":0,"h":0.75},{"s":"Right","t":0.8,"m":0.35,"l":0,"h":0.78},{"s":"Right","t":0.9,"m":0.35,"l":0,"h":0.75},{"s":"Right","t":1,"m":0.3,"l":-0.05,"h":0.7},{"s":"Right","t":1.1,"m":0.25,"l":-0.1,"h":0.6},{"s":"Right","t":1.2,"m":0.2,"l":-0.15,"h":0.5},{"s":"Right","t":1.4,"m":0.15,"l":-0.15,"h":0.45},{"s":"Right","t":1.6,"m":0.1,"l":-0.2,"h":0.42},{"s":"Right","t":1.8,"m":0.08,"l":-0.2,"h":0.4},{"s":"Right","t":2,"m":0.05,"l":-0.25,"h":0.35},{"s":"Right","t":2.2,"m":0,"l":-0.3,"h":0.32},{"s":"Right","t":2.4,"m":-0.05,"l":-0.35,"h":0.3},{"s":"Right","t":2.6,"m":-0.1,"l":-0.4,"h":0.2},{"s":"Right","t":2.8,"m":-0.05,"l":-0.35,"h":0.25},{"s":"Right","t":3,"m":0,"l":-0.3,"h":0.3},
{"s":"Up","t":-2,"m":0.05,"l":-0.15,"h":0.3},{"s":"Up","t":-1.8,"m":0.1,"l":-0.1,"h":0.35},{"s":"Up","t":-1.6,"m":0.05,"l":-0.15,"h":0.28},{"s":"Up","t":-1.4,"m":0.15,"l":-0.05,"h":0.4},{"s":"Up","t":-1.2,"m":0.22,"l":0,"h":0.5},{"s":"Up","t":-1,"m":0.25,"l":-0.05,"h":0.6},{"s":"Up","t":-0.8,"m":0.3,"l":-0.1,"h":0.8},{"s":"Up","t":-0.6,"m":0.35,"l":-0.15,"h":0.9},{"s":"Up","t":-0.4,"m":0.05,"l":-0.35,"h":0.45},{"s":"Up","t":-0.3,"m":-0.2,"l":-0.6,"h":0.2},{"s":"Up","t":-0.2,"m":-0.45,"l":-0.9,"h":-0.05},{"s":"Up","t":-0.1,"m":-0.7,"l":-1.15,"h":-0.3},{"s":"Up","t":0,"m":-0.9,"l":-1.4,"h":-0.45},{"s":"Up","t":0.1,"m":-1,"l":-1.6,"h":-0.5},{"s":"Up","t":0.2,"m":-0.75,"l":-1.25,"h":-0.3},{"s":"Up","t":0.3,"m":-0.4,"l":-0.85,"h":0},{"s":"Up","t":0.4,"m":-0.1,"l":-0.5,"h":0.3},{"s":"Up","t":0.5,"m":0.05,"l":-0.35,"h":0.45},{"s":"Up","t":0.6,"m":0.15,"l":-0.25,"h":0.6},{"s":"Up","t":0.7,"m":0.22,"l":-0.18,"h":0.7},{"s":"Up","t":0.8,"m":0.28,"l":-0.12,"h":0.8},{"s":"Up","t":0.9,"m":0.32,"l":-0.1,"h":0.85},{"s":"Up","t":1,"m":0.35,"l":-0.1,"h":0.88},{"s":"Up","t":1.1,"m":0.3,"l":-0.15,"h":0.8},{"s":"Up","t":1.2,"m":0.25,"l":-0.2,"h":0.7},{"s":"Up","t":1.4,"m":0.2,"l":-0.25,"h":0.6},{"s":"Up","t":1.6,"m":0.15,"l":-0.3,"h":0.5},{"s":"Up","t":1.8,"m":0.1,"l":-0.3,"h":0.42},{"s":"Up","t":2,"m":0.05,"l":-0.3,"h":0.38},{"s":"Up","t":2.2,"m":0,"l":-0.38,"h":0.35},{"s":"Up","t":2.4,"m":-0.05,"l":-0.4,"h":0.3},{"s":"Up","t":2.6,"m":-0.1,"l":-0.42,"h":0.2},{"s":"Up","t":2.8,"m":-0.12,"l":-0.4,"h":0.15},{"s":"Up","t":3,"m":-0.15,"l":-0.4,"h":0.1}],
"d4":[
{"s":"Down","t":-2,"m":-0.1,"l":-0.5,"h":0.15},{"s":"Down","t":-1.8,"m":0.15,"l":-0.2,"h":0.35},{"s":"Down","t":-1.6,"m":0.2,"l":-0.1,"h":0.4},{"s":"Down","t":-1.4,"m":0.15,"l":-0.1,"h":0.4},{"s":"Down","t":-1.2,"m":0.05,"l":-0.3,"h":0.35},{"s":"Down","t":-1,"m":0.15,"l":-0.2,"h":0.52},{"s":"Down","t":-0.8,"m":0.1,"l":-0.25,"h":0.45},{"s":"Down","t":-0.6,"m":0.15,"l":-0.2,"h":0.85},{"s":"Down","t":-0.4,"m":0.05,"l":-0.6,"h":0.5},{"s":"Down","t":-0.3,"m":-0.1,"l":-0.78,"h":0.4},{"s":"Down","t":-0.2,"m":-0.3,"l":-0.8,"h":0.15},{"s":"Down","t":-0.1,"m":-0.15,"l":-0.55,"h":0.3},{"s":"Down","t":0,"m":0.05,"l":-0.3,"h":0.5},{"s":"Down","t":0.1,"m":-0.1,"l":-0.45,"h":0.3},{"s":"Down","t":0.2,"m":-0.45,"l":-0.85,"h":-0.1},{"s":"Down","t":0.3,"m":-0.75,"l":-1.05,"h":-0.4},{"s":"Down","t":0.4,"m":-0.3,"l":-0.75,"h":0.2},{"s":"Down","t":0.5,"m":0.15,"l":-0.3,"h":0.6},{"s":"Down","t":0.6,"m":0.35,"l":-0.05,"h":0.8},{"s":"Down","t":0.7,"m":0.3,"l":-0.05,"h":0.7},{"s":"Down","t":0.8,"m":0.2,"l":-0.1,"h":0.55},{"s":"Down","t":0.9,"m":0.1,"l":-0.2,"h":0.45},{"s":"Down","t":1,"m":0.05,"l":-0.3,"h":0.4},{"s":"Down","t":1.1,"m":0,"l":-0.35,"h":0.35},{"s":"Down","t":1.2,"m":0.05,"l":-0.3,"h":0.35},{"s":"Down","t":1.4,"m":-0.05,"l":-0.3,"h":0.2},{"s":"Down","t":1.6,"m":-0.02,"l":-0.28,"h":0.22},{"s":"Down","t":1.8,"m":-0.05,"l":-0.25,"h":0.15},{"s":"Down","t":2,"m":-0.15,"l":-0.4,"h":0.05},{"s":"Down","t":2.2,"m":-0.02,"l":-0.25,"h":0.2},{"s":"Down","t":2.4,"m":0.1,"l":-0.1,"h":0.3},{"s":"Down","t":2.6,"m":0.28,"l":0.05,"h":0.5},{"s":"Down","t":2.8,"m":0.15,"l":-0.1,"h":0.4},{"s":"Down","t":3,"m":0.05,"l":-0.2,"h":0.32},
{"s":"Left","t":-2,"m":-0.05,"l":-0.35,"h":0.25},{"s":"Left","t":-1.8,"m":0.1,"l":-0.2,"h":0.4},{"s":"Left","t":-1.6,"m":0.2,"l":-0.1,"h":0.48},{"s":"Left","t":-1.4,"m":0.15,"l":-0.25,"h":0.45},{"s":"Left","t":-1.2,"m":0.05,"l":-0.45,"h":0.4},{"s":"Left","t":-1,"m":0.1,"l":-0.3,"h":0.45},{"s":"Left","t":-0.8,"m":0.05,"l":-0.35,"h":0.5},{"s":"Left","t":-0.6,"m":0.1,"l":-0.3,"h":0.55},{"s":"Left","t":-0.4,"m":0.05,"l":-0.45,"h":0.65},{"s":"Left","t":-0.3,"m":0,"l":-0.5,"h":0.6},{"s":"Left","t":-0.2,"m":-0.05,"l":-0.5,"h":0.5},{"s":"Left","t":-0.1,"m":0,"l":-0.45,"h":0.5},{"s":"Left","t":0,"m":0.15,"l":-0.3,"h":0.63},{"s":"Left","t":0.1,"m":0,"l":-0.4,"h":0.35},{"s":"Left","t":0.2,"m":-0.35,"l":-0.75,"h":0},{"s":"Left","t":0.3,"m":-0.65,"l":-1,"h":-0.3},{"s":"Left","t":0.4,"m":-0.2,"l":-0.65,"h":0.25},{"s":"Left","t":0.5,"m":0.1,"l":-0.3,"h":0.55},{"s":"Left","t":0.6,"m":0.2,"l":-0.15,"h":0.62},{"s":"Left","t":0.7,"m":0.22,"l":-0.1,"h":0.65},{"s":"Left","t":0.8,"m":0.25,"l":-0.1,"h":0.62},{"s":"Left","t":0.9,"m":0.28,"l":-0.05,"h":0.6},{"s":"Left","t":1,"m":0.25,"l":-0.1,"h":0.55},{"s":"Left","t":1.1,"m":0.15,"l":-0.2,"h":0.45},{"s":"Left","t":1.2,"m":0.1,"l":-0.25,"h":0.4},{"s":"Left","t":1.4,"m":0.05,"l":-0.3,"h":0.35},{"s":"Left","t":1.6,"m":-0.05,"l":-0.35,"h":0.25},{"s":"Left","t":1.8,"m":-0.15,"l":-0.45,"h":0.12},{"s":"Left","t":2,"m":-0.25,"l":-0.55,"h":0},{"s":"Left","t":2.2,"m":-0.12,"l":-0.4,"h":0.15},{"s":"Left","t":2.4,"m":0.05,"l":-0.25,"h":0.3},{"s":"Left","t":2.6,"m":0.25,"l":-0.05,"h":0.55},{"s":"Left","t":2.8,"m":0.3,"l":0,"h":0.62},{"s":"Left","t":3,"m":0.12,"l":-0.15,"h":0.4},
{"s":"Right","t":-2,"m":0.05,"l":-0.25,"h":0.3},{"s":"Right","t":-1.8,"m":0.2,"l":-0.1,"h":0.45},{"s":"Right","t":-1.6,"m":0.3,"l":0,"h":0.55},{"s":"Right","t":-1.4,"m":0.25,"l":-0.05,"h":0.5},{"s":"Right","t":-1.2,"m":0.2,"l":-0.1,"h":0.45},{"s":"Right","t":-1,"m":0.15,"l":-0.15,"h":0.4},{"s":"Right","t":-0.8,"m":0.08,"l":-0.25,"h":0.4},{"s":"Right","t":-0.6,"m":0,"l":-0.35,"h":0.35},{"s":"Right","t":-0.4,"m":-0.05,"l":-0.45,"h":0.35},{"s":"Right","t":-0.3,"m":-0.08,"l":-0.5,"h":0.3},{"s":"Right","t":-0.2,"m":-0.1,"l":-0.5,"h":0.28},{"s":"Right","t":-0.1,"m":-0.05,"l":-0.45,"h":0.3},{"s":"Right","t":0,"m":0,"l":-0.4,"h":0.4},{"s":"Right","t":0.1,"m":-0.1,"l":-0.5,"h":0.3},{"s":"Right","t":0.2,"m":-0.35,"l":-0.8,"h":0.05},{"s":"Right","t":0.3,"m":-0.55,"l":-0.95,"h":-0.15},{"s":"Right","t":0.4,"m":-0.25,"l":-0.7,"h":0.2},{"s":"Right","t":0.5,"m":0.05,"l":-0.35,"h":0.5},{"s":"Right","t":0.6,"m":0.2,"l":-0.15,"h":0.62},{"s":"Right","t":0.7,"m":0.25,"l":-0.1,"h":0.65},{"s":"Right","t":0.8,"m":0.28,"l":-0.05,"h":0.62},{"s":"Right","t":0.9,"m":0.25,"l":-0.08,"h":0.58},{"s":"Right","t":1,"m":0.2,"l":-0.1,"h":0.55},{"s":"Right","t":1.1,"m":0.15,"l":-0.18,"h":0.5},{"s":"Right","t":1.2,"m":0.12,"l":-0.2,"h":0.45},{"s":"Right","t":1.4,"m":0.05,"l":-0.25,"h":0.35},{"s":"Right","t":1.6,"m":0,"l":-0.3,"h":0.3},{"s":"Right","t":1.8,"m":-0.05,"l":-0.32,"h":0.22},{"s":"Right","t":2,"m":-0.15,"l":-0.4,"h":0.12},{"s":"Right","t":2.2,"m":-0.05,"l":-0.3,"h":0.2},{"s":"Right","t":2.4,"m":0.1,"l":-0.15,"h":0.35},{"s":"Right","t":2.6,"m":0.2,"l":-0.05,"h":0.45},{"s":"Right","t":2.8,"m":0.25,"l":0,"h":0.5},{"s":"Right","t":3,"m":0.2,"l":-0.08,"h":0.48},
{"s":"Up","t":-2,"m":-0.05,"l":-0.4,"h":0.25},{"s":"Up","t":-1.8,"m":0.1,"l":-0.15,"h":0.4},{"s":"Up","t":-1.6,"m":0.18,"l":-0.1,"h":0.5},{"s":"Up","t":-1.4,"m":0.15,"l":-0.15,"h":0.6},{"s":"Up","t":-1.2,"m":0.1,"l":-0.2,"h":0.45},{"s":"Up","t":-1,"m":0.05,"l":-0.25,"h":0.35},{"s":"Up","t":-0.8,"m":0,"l":-0.3,"h":0.3},{"s":"Up","t":-0.6,"m":-0.05,"l":-0.4,"h":0.3},{"s":"Up","t":-0.4,"m":-0.12,"l":-0.6,"h":0.3},{"s":"Up","t":-0.3,"m":-0.15,"l":-0.7,"h":0.35},{"s":"Up","t":-0.2,"m":-0.2,"l":-0.75,"h":0.4},{"s":"Up","t":-0.1,"m":0.05,"l":-0.5,"h":0.5},{"s":"Up","t":0,"m":0.3,"l":-0.1,"h":0.62},{"s":"Up","t":0.1,"m":0,"l":-0.4,"h":0.35},{"s":"Up","t":0.2,"m":-0.4,"l":-0.85,"h":0},{"s":"Up","t":0.3,"m":-0.78,"l":-1.12,"h":-0.35},{"s":"Up","t":0.4,"m":-0.2,"l":-0.7,"h":0.35},{"s":"Up","t":0.5,"m":0.25,"l":-0.2,"h":0.85},{"s":"Up","t":0.6,"m":0.42,"l":0,"h":1.07},{"s":"Up","t":0.7,"m":0.35,"l":-0.05,"h":0.8},{"s":"Up","t":0.8,"m":0.25,"l":-0.1,"h":0.6},{"s":"Up","t":0.9,"m":0.2,"l":-0.15,"h":0.5},{"s":"Up","t":1,"m":0.18,"l":-0.2,"h":0.48},{"s":"Up","t":1.1,"m":0.15,"l":-0.2,"h":0.45},{"s":"Up","t":1.2,"m":0.12,"l":-0.22,"h":0.4},{"s":"Up","t":1.4,"m":0.1,"l":-0.22,"h":0.38},{"s":"Up","t":1.6,"m":0,"l":-0.3,"h":0.28},{"s":"Up","t":1.8,"m":-0.15,"l":-0.45,"h":0.1},{"s":"Up","t":2,"m":-0.35,"l":-0.62,"h":-0.08},{"s":"Up","t":2.2,"m":-0.2,"l":-0.45,"h":0.05},{"s":"Up","t":2.4,"m":0,"l":-0.3,"h":0.25},{"s":"Up","t":2.6,"m":0.2,"l":-0.1,"h":0.45},{"s":"Up","t":2.8,"m":0.05,"l":-0.25,"h":0.35},{"s":"Up","t":3,"m":0.3,"l":-0.05,"h":0.7}],
"d5":[
{"s":"Down","t":-2,"m":-0.05,"l":-0.3,"h":0.2},{"s":"Down","t":-1.8,"m":0.08,"l":-0.2,"h":0.35},{"s":"Down","t":-1.6,"m":0.05,"l":-0.25,"h":0.4},{"s":"Down","t":-1.4,"m":0,"l":-0.35,"h":0.45},{"s":"Down","t":-1.2,"m":0.05,"l":-0.5,"h":0.55},{"s":"Down","t":-1,"m":0,"l":-0.45,"h":0.65},{"s":"Down","t":-0.8,"m":0.05,"l":-0.4,"h":0.45},{"s":"Down","t":-0.6,"m":-0.05,"l":-0.45,"h":0.4},{"s":"Down","t":-0.4,"m":-0.2,"l":-0.75,"h":0.25},{"s":"Down","t":-0.3,"m":-0.3,"l":-0.8,"h":0.2},{"s":"Down","t":-0.2,"m":-0.25,"l":-0.7,"h":0.2},{"s":"Down","t":-0.1,"m":-0.1,"l":-0.5,"h":0.3},{"s":"Down","t":0,"m":0,"l":-0.35,"h":0.4},{"s":"Down","t":0.1,"m":-0.2,"l":-0.55,"h":0.15},{"s":"Down","t":0.2,"m":-0.45,"l":-0.8,"h":-0.1},{"s":"Down","t":0.3,"m":-0.5,"l":-0.9,"h":-0.15},{"s":"Down","t":0.4,"m":-0.1,"l":-0.5,"h":0.3},{"s":"Down","t":0.5,"m":0.2,"l":-0.2,"h":0.6},{"s":"Down","t":0.6,"m":0.35,"l":-0.05,"h":0.75},{"s":"Down","t":0.7,"m":0.38,"l":0,"h":0.75},{"s":"Down","t":0.8,"m":0.35,"l":-0.05,"h":0.7},{"s":"Down","t":0.9,"m":0.3,"l":-0.1,"h":0.62},{"s":"Down","t":1,"m":0.25,"l":-0.1,"h":0.55},{"s":"Down","t":1.1,"m":0.2,"l":-0.15,"h":0.45},{"s":"Down","t":1.2,"m":0.15,"l":-0.2,"h":0.4},{"s":"Down","t":1.4,"m":0.1,"l":-0.25,"h":0.35},{"s":"Down","t":1.6,"m":0,"l":-0.35,"h":0.25},{"s":"Down","t":1.8,"m":-0.1,"l":-0.35,"h":0.1},{"s":"Down","t":2,"m":-0.3,"l":-0.5,"h":-0.05},{"s":"Down","t":2.2,"m":-0.1,"l":-0.35,"h":0.1},{"s":"Down","t":2.4,"m":0.1,"l":-0.15,"h":0.3},{"s":"Down","t":2.6,"m":0.3,"l":0.05,"h":0.5},{"s":"Down","t":2.8,"m":0.15,"l":-0.1,"h":0.35},{"s":"Down","t":3,"m":0,"l":-0.25,"h":0.2},
{"s":"Left","t":-2,"m":0,"l":-0.3,"h":0.3},{"s":"Left","t":-1.8,"m":0.1,"l":-0.2,"h":0.35},{"s":"Left","t":-1.6,"m":0.05,"l":-0.25,"h":0.35},{"s":"Left","t":-1.4,"m":0,"l":-0.35,"h":0.35},{"s":"Left","t":-1.2,"m":-0.05,"l":-0.45,"h":0.35},{"s":"Left","t":-1,"m":-0.1,"l":-0.6,"h":0.4},{"s":"Left","t":-0.8,"m":0.1,"l":-0.35,"h":0.55},{"s":"Left","t":-0.6,"m":0.15,"l":-0.3,"h":0.75},{"s":"Left","t":-0.4,"m":0.12,"l":-0.4,"h":0.8},{"s":"Left","t":-0.3,"m":0.1,"l":-0.55,"h":0.75},{"s":"Left","t":-0.2,"m":0.05,"l":-0.6,"h":0.65},{"s":"Left","t":-0.1,"m":0.1,"l":-0.45,"h":0.6},{"s":"Left","t":0,"m":0.2,"l":-0.2,"h":0.6},{"s":"Left","t":0.1,"m":-0.1,"l":-0.6,"h":0.3},{"s":"Left","t":0.2,"m":-0.6,"l":-1.1,"h":-0.2},{"s":"Left","t":0.3,"m":-0.82,"l":-1.4,"h":-0.35},{"s":"Left","t":0.4,"m":-0.3,"l":-0.8,"h":0.2},{"s":"Left","t":0.5,"m":0.1,"l":-0.3,"h":0.55},{"s":"Left","t":0.6,"m":0.3,"l":-0.1,"h":0.65},{"s":"Left","t":0.7,"m":0.38,"l":0,"h":0.7},{"s":"Left","t":0.8,"m":0.38,"l":0,"h":0.68},{"s":"Left","t":0.9,"m":0.35,"l":0,"h":0.65},{"s":"Left","t":1,"m":0.3,"l":-0.05,"h":0.6},{"s":"Left","t":1.1,"m":0.25,"l":-0.08,"h":0.55},{"s":"Left","t":1.2,"m":0.2,"l":-0.1,"h":0.5},{"s":"Left","t":1.4,"m":0.12,"l":-0.2,"h":0.4},{"s":"Left","t":1.6,"m":0.05,"l":-0.25,"h":0.3},{"s":"Left","t":1.8,"m":-0.1,"l":-0.4,"h":0.15},{"s":"Left","t":2,"m":-0.25,"l":-0.5,"h":0},{"s":"Left","t":2.2,"m":-0.05,"l":-0.35,"h":0.2},{"s":"Left","t":2.4,"m":0.15,"l":-0.15,"h":0.45},{"s":"Left","t":2.6,"m":0.35,"l":0.05,"h":0.75},{"s":"Left","t":2.8,"m":0.25,"l":-0.05,"h":0.55},{"s":"Left","t":3,"m":0.12,"l":-0.2,"h":0.42},
{"s":"Right","t":-2,"m":0.1,"l":-0.15,"h":0.4},{"s":"Right","t":-1.8,"m":0.2,"l":-0.05,"h":0.5},{"s":"Right","t":-1.6,"m":0.3,"l":0.05,"h":0.6},{"s":"Right","t":-1.4,"m":0.25,"l":0,"h":0.55},{"s":"Right","t":-1.2,"m":0.15,"l":-0.1,"h":0.45},{"s":"Right","t":-1,"m":0.1,"l":-0.15,"h":0.4},{"s":"Right","t":-0.8,"m":0.15,"l":-0.1,"h":0.45},{"s":"Right","t":-0.6,"m":0.1,"l":-0.2,"h":0.5},{"s":"Right","t":-0.4,"m":0.05,"l":-0.3,"h":0.45},{"s":"Right","t":-0.3,"m":0,"l":-0.4,"h":0.4},{"s":"Right","t":-0.2,"m":-0.05,"l":-0.45,"h":0.35},{"s":"Right","t":-0.1,"m":0,"l":-0.4,"h":0.4},{"s":"Right","t":0,"m":0.1,"l":-0.3,"h":0.5},{"s":"Right","t":0.1,"m":-0.15,"l":-0.55,"h":0.25},{"s":"Right","t":0.2,"m":-0.55,"l":-1,"h":-0.15},{"s":"Right","t":0.3,"m":-0.75,"l":-1.2,"h":-0.35},{"s":"Right","t":0.4,"m":-0.25,"l":-0.7,"h":0.2},{"s":"Right","t":0.5,"m":0.1,"l":-0.3,"h":0.55},{"s":"Right","t":0.6,"m":0.3,"l":-0.1,"h":0.7},{"s":"Right","t":0.7,"m":0.4,"l":0,"h":0.75},{"s":"Right","t":0.8,"m":0.38,"l":0,"h":0.72},{"s":"Right","t":0.9,"m":0.32,"l":-0.05,"h":0.65},{"s":"Right","t":1,"m":0.28,"l":-0.08,"h":0.6},{"s":"Right","t":1.1,"m":0.22,"l":-0.1,"h":0.55},{"s":"Right","t":1.2,"m":0.18,"l":-0.12,"h":0.5},{"s":"Right","t":1.4,"m":0.1,"l":-0.2,"h":0.42},{"s":"Right","t":1.6,"m":0.05,"l":-0.25,"h":0.35},{"s":"Right","t":1.8,"m":-0.05,"l":-0.3,"h":0.2},{"s":"Right","t":2,"m":-0.2,"l":-0.45,"h":0.05},{"s":"Right","t":2.2,"m":0,"l":-0.25,"h":0.25},{"s":"Right","t":2.4,"m":0.15,"l":-0.1,"h":0.4},{"s":"Right","t":2.6,"m":0.25,"l":0,"h":0.5},{"s":"Right","t":2.8,"m":0.2,"l":-0.05,"h":0.45},{"s":"Right","t":3,"m":0.15,"l":-0.1,"h":0.4},
{"s":"Up","t":-2,"m":-0.05,"l":-0.45,"h":0.3},{"s":"Up","t":-1.8,"m":0.05,"l":-0.25,"h":0.38},{"s":"Up","t":-1.6,"m":0.15,"l":-0.15,"h":0.48},{"s":"Up","t":-1.4,"m":0.28,"l":-0.05,"h":0.6},{"s":"Up","t":-1.2,"m":0.15,"l":-0.2,"h":0.5},{"s":"Up","t":-1,"m":0.05,"l":-0.3,"h":0.4},{"s":"Up","t":-0.8,"m":0,"l":-0.4,"h":0.35},{"s":"Up","t":-0.6,"m":-0.05,"l":-0.45,"h":0.35},{"s":"Up","t":-0.4,"m":-0.15,"l":-0.65,"h":0.3},{"s":"Up","t":-0.3,"m":-0.1,"l":-0.7,"h":0.4},{"s":"Up","t":-0.2,"m":-0.15,"l":-0.8,"h":0.45},{"s":"Up","t":-0.1,"m":0,"l":-0.6,"h":0.5},{"s":"Up","t":0,"m":0.2,"l":-0.2,"h":0.55},{"s":"Up","t":0.1,"m":-0.2,"l":-0.7,"h":0.25},{"s":"Up","t":0.2,"m":-0.7,"l":-1.3,"h":-0.2},{"s":"Up","t":0.3,"m":-1,"l":-1.58,"h":-0.45},{"s":"Up","t":0.4,"m":-0.45,"l":-1,"h":0.1},{"s":"Up","t":0.5,"m":0.1,"l":-0.4,"h":0.65},{"s":"Up","t":0.6,"m":0.4,"l":-0.05,"h":1},{"s":"Up","t":0.7,"m":0.45,"l":0,"h":1.15},{"s":"Up","t":0.8,"m":0.4,"l":-0.05,"h":0.95},{"s":"Up","t":0.9,"m":0.35,"l":-0.05,"h":0.75},{"s":"Up","t":1,"m":0.3,"l":-0.1,"h":0.65},{"s":"Up","t":1.1,"m":0.25,"l":-0.12,"h":0.55},{"s":"Up","t":1.2,"m":0.2,"l":-0.15,"h":0.5},{"s":"Up","t":1.4,"m":0.15,"l":-0.2,"h":0.45},{"s":"Up","t":1.6,"m":0.1,"l":-0.2,"h":0.4},{"s":"Up","t":1.8,"m":-0.15,"l":-0.45,"h":0.15},{"s":"Up","t":2,"m":-0.4,"l":-0.8,"h":-0.1},{"s":"Up","t":2.2,"m":-0.15,"l":-0.45,"h":0.15},{"s":"Up","t":2.4,"m":0.15,"l":-0.15,"h":0.45},{"s":"Up","t":2.6,"m":0.3,"l":0,"h":0.55},{"s":"Up","t":2.8,"m":-0.1,"l":-0.45,"h":0.3},{"s":"Up","t":3,"m":0,"l":-0.3,"h":0.35}]
},
"vconcat":[
 {"hconcat":[
  {"title":{"text":"In/out","fontSize":18,"anchor":"middle","frame":"bounds","offset":16},"spacing":55,"bounds":"flush","resolve":{"scale":{"color":"independent"}},
   "hconcat":[
    {"width":156,"height":225,"title":"C1","data":{"name":"a1"},"encoding":{"x":{"field":"t","type":"quantitative","scale":{"domain":[-2,3],"nice":false,"zero":false},"axis":{"values":[-2,-1,0,1,2,3],"tickCount":20,"title":"Time (s)","labelOverlap":false,"labelExpr":"''+datum.value"}}},
     "layer":[
      {"mark":{"type":"area","interpolate":"monotone","fillOpacity":0.1},"encoding":{"y":{"field":"l","type":"quantitative","scale":{"domain":[-2.5,1],"nice":false,"zero":false},"axis":{"values":[-2.5,-2,-1.5,-1,-0.5,0,0.5,1],"tickCount":20,"title":"Amplitude (μV)","labelOverlap":false,"labelExpr":"''+datum.value"}},"y2":{"field":"h"},"fill":{"field":"s","type":"nominal","scale":{"domain":["In","Out","Down","Left","Right","Up"],"range":["#0072BD","#D95319","#0072BD","#D95319","#EDB120","#7E2F8E"]},"legend":null}}},
      {"mark":{"type":"line","interpolate":"monotone","strokeWidth":0.8,"strokeOpacity":0.35},"encoding":{"y":{"field":"l","type":"quantitative"},"stroke":{"field":"s","type":"nominal","scale":{"domain":["In","Out","Down","Left","Right","Up"],"range":["#0072BD","#D95319","#0072BD","#D95319","#EDB120","#7E2F8E"]},"legend":null}}},
      {"mark":{"type":"line","interpolate":"monotone","strokeWidth":0.8,"strokeOpacity":0.35},"encoding":{"y":{"field":"h","type":"quantitative"},"stroke":{"field":"s","type":"nominal","scale":{"domain":["In","Out","Down","Left","Right","Up"],"range":["#0072BD","#D95319","#0072BD","#D95319","#EDB120","#7E2F8E"]},"legend":null}}},
      {"mark":{"type":"line","interpolate":"monotone","strokeWidth":1.1},"encoding":{"y":{"field":"m","type":"quantitative"},"color":{"field":"s","type":"nominal","scale":{"domain":["In","Out"],"range":["#0072BD","#D95319"]},"legend":null}}}
     ]},
    {"width":156,"height":225,"title":"Cz","data":{"name":"a2"},"encoding":{"x":{"field":"t","type":"quantitative","scale":{"domain":[-2,3],"nice":false,"zero":false},"axis":{"values":[-2,-1,0,1,2,3],"tickCount":20,"title":"Time (s)","labelOverlap":false,"labelExpr":"''+datum.value"}}},
     "layer":[
      {"mark":{"type":"area","interpolate":"monotone","fillOpacity":0.1},"encoding":{"y":{"field":"l","type":"quantitative","scale":{"domain":[-2.5,1.5],"nice":false,"zero":false},"axis":{"values":[-2.5,-2,-1.5,-1,-0.5,0,0.5,1,1.5],"tickCount":20,"title":"Amplitude (μV)","labelOverlap":false,"labelExpr":"''+datum.value"}},"y2":{"field":"h"},"fill":{"field":"s","type":"nominal","scale":{"domain":["In","Out","Down","Left","Right","Up"],"range":["#0072BD","#D95319","#0072BD","#D95319","#EDB120","#7E2F8E"]},"legend":null}}},
      {"mark":{"type":"line","interpolate":"monotone","strokeWidth":0.8,"strokeOpacity":0.35},"encoding":{"y":{"field":"l","type":"quantitative"},"stroke":{"field":"s","type":"nominal","scale":{"domain":["In","Out","Down","Left","Right","Up"],"range":["#0072BD","#D95319","#0072BD","#D95319","#EDB120","#7E2F8E"]},"legend":null}}},
      {"mark":{"type":"line","interpolate":"monotone","strokeWidth":0.8,"strokeOpacity":0.35},"encoding":{"y":{"field":"h","type":"quantitative"},"stroke":{"field":"s","type":"nominal","scale":{"domain":["In","Out","Down","Left","Right","Up"],"range":["#0072BD","#D95319","#0072BD","#D95319","#EDB120","#7E2F8E"]},"legend":null}}},
      {"mark":{"type":"line","interpolate":"monotone","strokeWidth":1.1},"encoding":{"y":{"field":"m","type":"quantitative"},"color":{"field":"s","type":"nominal","scale":{"domain":["In","Out"],"range":["#0072BD","#D95319"]},"legend":null}}}
     ]},
    {"width":156,"height":225,"title":"C2","data":{"name":"a3"},"encoding":{"x":{"field":"t","type":"quantitative","scale":{"domain":[-2,3],"nice":false,"zero":false},"axis":{"values":[-2,-1,0,1,2,3],"tickCount":20,"title":"Time (s)","labelOverlap":false,"labelExpr":"''+datum.value"}}},
     "layer":[
      {"mark":{"type":"area","interpolate":"monotone","fillOpacity":0.1},"encoding":{"y":{"field":"l","type":"quantitative","scale":{"domain":[-2,1.5],"nice":false,"zero":false},"axis":{"values":[-2,-1.5,-1,-0.5,0,0.5,1,1.5],"tickCount":20,"title":"Amplitude (μV)","labelOverlap":false,"labelExpr":"''+datum.value"}},"y2":{"field":"h"},"fill":{"field":"s","type":"nominal","scale":{"domain":["In","Out","Down","Left","Right","Up"],"range":["#0072BD","#D95319","#0072BD","#D95319","#EDB120","#7E2F8E"]},"legend":null}}},
      {"mark":{"type":"line","interpolate":"monotone","strokeWidth":0.8,"strokeOpacity":0.35},"encoding":{"y":{"field":"l","type":"quantitative"},"stroke":{"field":"s","type":"nominal","scale":{"domain":["In","Out","Down","Left","Right","Up"],"range":["#0072BD","#D95319","#0072BD","#D95319","#EDB120","#7E2F8E"]},"legend":null}}},
      {"mark":{"type":"line","interpolate":"monotone","strokeWidth":0.8,"strokeOpacity":0.35},"encoding":{"y":{"field":"h","type":"quantitative"},"stroke":{"field":"s","type":"nominal","scale":{"domain":["In","Out","Down","Left","Right","Up"],"range":["#0072BD","#D95319","#0072BD","#D95319","#EDB120","#7E2F8E"]},"legend":null}}},
      {"mark":{"type":"line","interpolate":"monotone","strokeWidth":1.1},"encoding":{"y":{"field":"m","type":"quantitative"},"color":{"field":"s","type":"nominal","scale":{"domain":["In","Out"],"range":["#0072BD","#D95319"]},"legend":null}}}
     ]}
   ]},
  {"title":{"text":"Direction","fontSize":18,"anchor":"middle","frame":"bounds","offset":16},"spacing":60,"bounds":"flush","resolve":{"scale":{"color":"independent"}},
   "hconcat":[
    {"width":154,"height":225,"title":"C1","data":{"name":"d1"},"encoding":{"x":{"field":"t","type":"quantitative","scale":{"domain":[-2,3],"nice":false,"zero":false},"axis":{"values":[-2,-1,0,1,2,3],"tickCount":20,"title":"Time (s)","labelOverlap":false,"labelExpr":"''+datum.value"}}},
     "layer":[
      {"mark":{"type":"area","interpolate":"monotone","fillOpacity":0.07},"encoding":{"y":{"field":"l","type":"quantitative","scale":{"domain":[-2.5,1.5],"nice":false,"zero":false},"axis":{"values":[-2.5,-2,-1.5,-1,-0.5,0,0.5,1,1.5],"tickCount":20,"title":"Amplitude (μV)","labelOverlap":false,"labelExpr":"''+datum.value"}},"y2":{"field":"h"},"fill":{"field":"s","type":"nominal","scale":{"domain":["In","Out","Down","Left","Right","Up"],"range":["#0072BD","#D95319","#0072BD","#D95319","#EDB120","#7E2F8E"]},"legend":null}}},
      {"mark":{"type":"line","interpolate":"monotone","strokeWidth":0.8,"strokeOpacity":0.3},"encoding":{"y":{"field":"l","type":"quantitative"},"stroke":{"field":"s","type":"nominal","scale":{"domain":["In","Out","Down","Left","Right","Up"],"range":["#0072BD","#D95319","#0072BD","#D95319","#EDB120","#7E2F8E"]},"legend":null}}},
      {"mark":{"type":"line","interpolate":"monotone","strokeWidth":0.8,"strokeOpacity":0.3},"encoding":{"y":{"field":"h","type":"quantitative"},"stroke":{"field":"s","type":"nominal","scale":{"domain":["In","Out","Down","Left","Right","Up"],"range":["#0072BD","#D95319","#0072BD","#D95319","#EDB120","#7E2F8E"]},"legend":null}}},
      {"mark":{"type":"line","interpolate":"monotone","strokeWidth":1.1},"encoding":{"y":{"field":"m","type":"quantitative"},"color":{"field":"s","type":"nominal","scale":{"domain":["Down","Left","Right","Up"],"range":["#0072BD","#D95319","#EDB120","#7E2F8E"]},"legend":null}}}
     ]},
    {"width":153,"height":225,"title":"Cz","data":{"name":"d2"},"encoding":{"x":{"field":"t","type":"quantitative","scale":{"domain":[-2,3],"nice":false,"zero":false},"axis":{"values":[-2,-1,0,1,2,3],"tickCount":20,"title":"Time (s)","labelOverlap":false,"labelExpr":"''+datum.value"}}},
     "layer":[
      {"mark":{"type":"area","interpolate":"monotone","fillOpacity":0.07},"encoding":{"y":{"field":"l","type":"quantitative","scale":{"domain":[-2.5,1.5],"nice":false,"zero":false},"axis":{"values":[-2.5,-2,-1.5,-1,-0.5,0,0.5,1,1.5],"tickCount":20,"title":"Amplitude (μV)","labelOverlap":false,"labelExpr":"''+datum.value"}},"y2":{"field":"h"},"fill":{"field":"s","type":"nominal","scale":{"domain":["In","Out","Down","Left","Right","Up"],"range":["#0072BD","#D95319","#0072BD","#D95319","#EDB120","#7E2F8E"]},"legend":null}}},
      {"mark":{"type":"line","interpolate":"monotone","strokeWidth":0.8,"strokeOpacity":0.3},"encoding":{"y":{"field":"l","type":"quantitative"},"stroke":{"field":"s","type":"nominal","scale":{"domain":["In","Out","Down","Left","Right","Up"],"range":["#0072BD","#D95319","#0072BD","#D95319","#EDB120","#7E2F8E"]},"legend":null}}},
      {"mark":{"type":"line","interpolate":"monotone","strokeWidth":0.8,"strokeOpacity":0.3},"encoding":{"y":{"field":"h","type":"quantitative"},"stroke":{"field":"s","type":"nominal","scale":{"domain":["In","Out","Down","Left","Right","Up"],"range":["#0072BD","#D95319","#0072BD","#D95319","#EDB120","#7E2F8E"]},"legend":null}}},
      {"mark":{"type":"line","interpolate":"monotone","strokeWidth":1.1},"encoding":{"y":{"field":"m","type":"quantitative"},"color":{"field":"s","type":"nominal","scale":{"domain":["Down","Left","Right","Up"],"range":["#0072BD","#D95319","#EDB120","#7E2F8E"]},"legend":null}}}
     ]},
    {"width":151,"height":225,"title":"C2","data":{"name":"d3"},"encoding":{"x":{"field":"t","type":"quantitative","scale":{"domain":[-2,3],"nice":false,"zero":false},"axis":{"values":[-2,-1,0,1,2,3],"tickCount":20,"title":"Time (s)","labelOverlap":false,"labelExpr":"''+datum.value"}}},
     "layer":[
      {"mark":{"type":"area","interpolate":"monotone","fillOpacity":0.07},"encoding":{"y":{"field":"l","type":"quantitative","scale":{"domain":[-2,1.5],"nice":false,"zero":false},"axis":{"values":[-2,-1.5,-1,-0.5,0,0.5,1,1.5],"tickCount":20,"title":"Amplitude (μV)","labelOverlap":false,"labelExpr":"''+datum.value"}},"y2":{"field":"h"},"fill":{"field":"s","type":"nominal","scale":{"domain":["In","Out","Down","Left","Right","Up"],"range":["#0072BD","#D95319","#0072BD","#D95319","#EDB120","#7E2F8E"]},"legend":null}}},
      {"mark":{"type":"line","interpolate":"monotone","strokeWidth":0.8,"strokeOpacity":0.3},"encoding":{"y":{"field":"l","type":"quantitative"},"stroke":{"field":"s","type":"nominal","scale":{"domain":["In","Out","Down","Left","Right","Up"],"range":["#0072BD","#D95319","#0072BD","#D95319","#EDB120","#7E2F8E"]},"legend":null}}},
      {"mark":{"type":"line","interpolate":"monotone","strokeWidth":0.8,"strokeOpacity":0.3},"encoding":{"y":{"field":"h","type":"quantitative"},"stroke":{"field":"s","type":"nominal","scale":{"domain":["In","Out","Down","Left","Right","Up"],"range":["#0072BD","#D95319","#0072BD","#D95319","#EDB120","#7E2F8E"]},"legend":null}}},
      {"mark":{"type":"line","interpolate":"monotone","strokeWidth":1.1},"encoding":{"y":{"field":"m","type":"quantitative"},"color":{"field":"s","type":"nominal","scale":{"domain":["Down","Left","Right","Up"],"range":["#0072BD","#D95319","#EDB120","#7E2F8E"]},"legend":null}}}
     ]}
   ]}
 ],"spacing":19,"resolve":{"scale":{"color":"independent"}}},
 {"hconcat":[
    {"width":157,"height":225,"title":"PPO1h","data":{"name":"a4"},"encoding":{"x":{"field":"t","type":"quantitative","scale":{"domain":[-2,3],"nice":false,"zero":false},"axis":{"values":[-2,-1,0,1,2,3],"tickCount":20,"title":"Time (s)","labelOverlap":false,"labelExpr":"''+datum.value"}}},
     "layer":[
      {"mark":{"type":"area","interpolate":"monotone","fillOpacity":0.1},"encoding":{"y":{"field":"l","type":"quantitative","scale":{"domain":[-1,1],"nice":false,"zero":false},"axis":{"values":[-1,-0.5,0,0.5,1],"tickCount":20,"title":"Amplitude (μV)","labelOverlap":false,"labelExpr":"''+datum.value"}},"y2":{"field":"h"},"fill":{"field":"s","type":"nominal","scale":{"domain":["In","Out","Down","Left","Right","Up"],"range":["#0072BD","#D95319","#0072BD","#D95319","#EDB120","#7E2F8E"]},"legend":null}}},
      {"mark":{"type":"line","interpolate":"monotone","strokeWidth":0.8,"strokeOpacity":0.35},"encoding":{"y":{"field":"l","type":"quantitative"},"stroke":{"field":"s","type":"nominal","scale":{"domain":["In","Out","Down","Left","Right","Up"],"range":["#0072BD","#D95319","#0072BD","#D95319","#EDB120","#7E2F8E"]},"legend":null}}},
      {"mark":{"type":"line","interpolate":"monotone","strokeWidth":0.8,"strokeOpacity":0.35},"encoding":{"y":{"field":"h","type":"quantitative"},"stroke":{"field":"s","type":"nominal","scale":{"domain":["In","Out","Down","Left","Right","Up"],"range":["#0072BD","#D95319","#0072BD","#D95319","#EDB120","#7E2F8E"]},"legend":null}}},
      {"mark":{"type":"line","interpolate":"monotone","strokeWidth":1.1},"encoding":{"y":{"field":"m","type":"quantitative"},"color":{"field":"s","type":"nominal","scale":{"domain":["In","Out"],"range":["#0072BD","#D95319"]},"legend":null}}}
     ]},
    {"width":157,"height":225,"title":"PPO2h","data":{"name":"a5"},"encoding":{"x":{"field":"t","type":"quantitative","scale":{"domain":[-2,3],"nice":false,"zero":false},"axis":{"values":[-2,-1,0,1,2,3],"tickCount":20,"title":"Time (s)","labelOverlap":false,"labelExpr":"''+datum.value"}}},
     "layer":[
      {"mark":{"type":"area","interpolate":"monotone","fillOpacity":0.1},"encoding":{"y":{"field":"l","type":"quantitative","scale":{"domain":[-1.5,1],"nice":false,"zero":false},"axis":{"values":[-1.5,-1,-0.5,0,0.5,1],"tickCount":20,"title":"Amplitude (μV)","labelOverlap":false,"labelExpr":"''+datum.value"}},"y2":{"field":"h"},"fill":{"field":"s","type":"nominal","scale":{"domain":["In","Out","Down","Left","Right","Up"],"range":["#0072BD","#D95319","#0072BD","#D95319","#EDB120","#7E2F8E"]},"legend":null}}},
      {"mark":{"type":"line","interpolate":"monotone","strokeWidth":0.8,"strokeOpacity":0.35},"encoding":{"y":{"field":"l","type":"quantitative"},"stroke":{"field":"s","type":"nominal","scale":{"domain":["In","Out","Down","Left","Right","Up"],"range":["#0072BD","#D95319","#0072BD","#D95319","#EDB120","#7E2F8E"]},"legend":null}}},
      {"mark":{"type":"line","interpolate":"monotone","strokeWidth":0.8,"strokeOpacity":0.35},"encoding":{"y":{"field":"h","type":"quantitative"},"stroke":{"field":"s","type":"nominal","scale":{"domain":["In","Out","Down","Left","Right","Up"],"range":["#0072BD","#D95319","#0072BD","#D95319","#EDB120","#7E2F8E"]},"legend":null}}},
      {"mark":{"type":"line","interpolate":"monotone","strokeWidth":1.1},"encoding":{"y":{"field":"m","type":"quantitative"},"color":{"field":"s","type":"nominal","scale":{"domain":["In","Out"],"range":["#0072BD","#D95319"]},"legend":{"orient":"bottom-right","offset":1,"title":null,"fillColor":"#ffffff","strokeColor":"#262626","padding":4,"symbolType":"stroke","symbolSize":1296,"symbolStrokeWidth":1.2,"clipHeight":13,"rowPadding":2,"labelFont":"Liberation Sans","labelFontSize":11,"labelColor":"#000000","labelOffset":4}}}}
     ]},
    {"width":162,"height":225,
     "layer":[
      {"data":{"values":[{"x":0,"y":0}]},"mark":{"type":"point","shape":"circle","size":39204,"filled":false,"stroke":"#000000","strokeWidth":1.3,"opacity":1},"encoding":{"x":{"field":"x","type":"quantitative","scale":{"domain":[-0.662,0.975],"nice":false,"zero":false},"axis":null},"y":{"field":"y","type":"quantitative","scale":{"domain":[-1.076,1.197],"nice":false,"zero":false},"axis":null}}},
      {"data":{"values":[{"x":-0.116,"y":0.993},{"x":0,"y":1.227},{"x":0.116,"y":0.993}]},"mark":{"type":"line","color":"#000000","strokeWidth":1.3,"interpolate":"linear"},"encoding":{"x":{"field":"x","type":"quantitative"},"y":{"field":"y","type":"quantitative"}}},
      {"data":{"values":[{"n":"C1","x":-0.27,"y":-0.025,"lx":-0.27,"ly":0.13},{"n":"Cz","x":0,"y":-0.025,"lx":0,"ly":0.13},{"n":"C2","x":0.27,"y":-0.025,"lx":0.27,"ly":0.13},{"n":"PPO1h","x":-0.14,"y":-0.49,"lx":-0.33,"ly":-0.356},{"n":"PPO2h","x":0.13,"y":-0.49,"lx":0.335,"ly":-0.356}]},
       "layer":[
        {"mark":{"type":"circle","size":40,"color":"#000000","opacity":1},"encoding":{"x":{"field":"x","type":"quantitative"},"y":{"field":"y","type":"quantitative"}}},
        {"mark":{"type":"text","font":"Liberation Sans","fontSize":16,"fontWeight":"bold","color":"#000000","baseline":"middle","align":"center"},"encoding":{"x":{"field":"lx","type":"quantitative"},"y":{"field":"ly","type":"quantitative"},"text":{"field":"n"}}}
       ]}
     ]},
    {"width":157,"height":225,"title":"PPO1h","data":{"name":"d4"},"encoding":{"x":{"field":"t","type":"quantitative","scale":{"domain":[-2,3],"nice":false,"zero":false},"axis":{"values":[-2,-1,0,1,2,3],"tickCount":20,"title":"Time (s)","labelOverlap":false,"labelExpr":"''+datum.value"}}},
     "layer":[
      {"mark":{"type":"area","interpolate":"monotone","fillOpacity":0.07},"encoding":{"y":{"field":"l","type":"quantitative","scale":{"domain":[-1.5,1.5],"nice":false,"zero":false},"axis":{"values":[-1.5,-1,-0.5,0,0.5,1,1.5],"tickCount":20,"title":"Amplitude (μV)","labelOverlap":false,"labelExpr":"''+datum.value"}},"y2":{"field":"h"},"fill":{"field":"s","type":"nominal","scale":{"domain":["In","Out","Down","Left","Right","Up"],"range":["#0072BD","#D95319","#0072BD","#D95319","#EDB120","#7E2F8E"]},"legend":null}}},
      {"mark":{"type":"line","interpolate":"monotone","strokeWidth":0.8,"strokeOpacity":0.3},"encoding":{"y":{"field":"l","type":"quantitative"},"stroke":{"field":"s","type":"nominal","scale":{"domain":["In","Out","Down","Left","Right","Up"],"range":["#0072BD","#D95319","#0072BD","#D95319","#EDB120","#7E2F8E"]},"legend":null}}},
      {"mark":{"type":"line","interpolate":"monotone","strokeWidth":0.8,"strokeOpacity":0.3},"encoding":{"y":{"field":"h","type":"quantitative"},"stroke":{"field":"s","type":"nominal","scale":{"domain":["In","Out","Down","Left","Right","Up"],"range":["#0072BD","#D95319","#0072BD","#D95319","#EDB120","#7E2F8E"]},"legend":null}}},
      {"mark":{"type":"line","interpolate":"monotone","strokeWidth":1.1},"encoding":{"y":{"field":"m","type":"quantitative"},"color":{"field":"s","type":"nominal","scale":{"domain":["Down","Left","Right","Up"],"range":["#0072BD","#D95319","#EDB120","#7E2F8E"]},"legend":null}}}
     ]},
    {"width":157,"height":225,"title":"PPO2h","data":{"name":"d5"},"encoding":{"x":{"field":"t","type":"quantitative","scale":{"domain":[-2,3],"nice":false,"zero":false},"axis":{"values":[-2,-1,0,1,2,3],"tickCount":20,"title":"Time (s)","labelOverlap":false,"labelExpr":"''+datum.value"}}},
     "layer":[
      {"mark":{"type":"area","interpolate":"monotone","fillOpacity":0.07},"encoding":{"y":{"field":"l","type":"quantitative","scale":{"domain":[-2,1.5],"nice":false,"zero":false},"axis":{"values":[-2,-1.5,-1,-0.5,0,0.5,1,1.5],"tickCount":20,"title":"Amplitude (μV)","labelOverlap":false,"labelExpr":"''+datum.value"}},"y2":{"field":"h"},"fill":{"field":"s","type":"nominal","scale":{"domain":["In","Out","Down","Left","Right","Up"],"range":["#0072BD","#D95319","#0072BD","#D95319","#EDB120","#7E2F8E"]},"legend":null}}},
      {"mark":{"type":"line","interpolate":"monotone","strokeWidth":0.8,"strokeOpacity":0.3},"encoding":{"y":{"field":"l","type":"quantitative"},"stroke":{"field":"s","type":"nominal","scale":{"domain":["In","Out","Down","Left","Right","Up"],"range":["#0072BD","#D95319","#0072BD","#D95319","#EDB120","#7E2F8E"]},"legend":null}}},
      {"mark":{"type":"line","interpolate":"monotone","strokeWidth":0.8,"strokeOpacity":0.3},"encoding":{"y":{"field":"h","type":"quantitative"},"stroke":{"field":"s","type":"nominal","scale":{"domain":["In","Out","Down","Left","Right","Up"],"range":["#0072BD","#D95319","#0072BD","#D95319","#EDB120","#7E2F8E"]},"legend":null}}},
      {"mark":{"type":"line","interpolate":"monotone","strokeWidth":1.1},"encoding":{"y":{"field":"m","type":"quantitative"},"color":{"field":"s","type":"nominal","scale":{"domain":["Down","Left","Right","Up"],"range":["#0072BD","#D95319","#EDB120","#7E2F8E"]},"legend":{"orient":"bottom-right","offset":5,"title":null,"fillColor":"#ffffff","strokeColor":"#262626","padding":4,"symbolType":"stroke","symbolSize":1296,"symbolStrokeWidth":1.2,"clipHeight":13,"rowPadding":2,"labelFont":"Liberation Sans","labelFontSize":11,"labelColor":"#000000","labelOffset":4}}}}
     ]}
 ],"spacing":55,"bounds":"flush","resolve":{"scale":{"color":"independent"}}}
],
"spacing":24,"center":true,"resolve":{"scale":{"color":"independent"}}
}
